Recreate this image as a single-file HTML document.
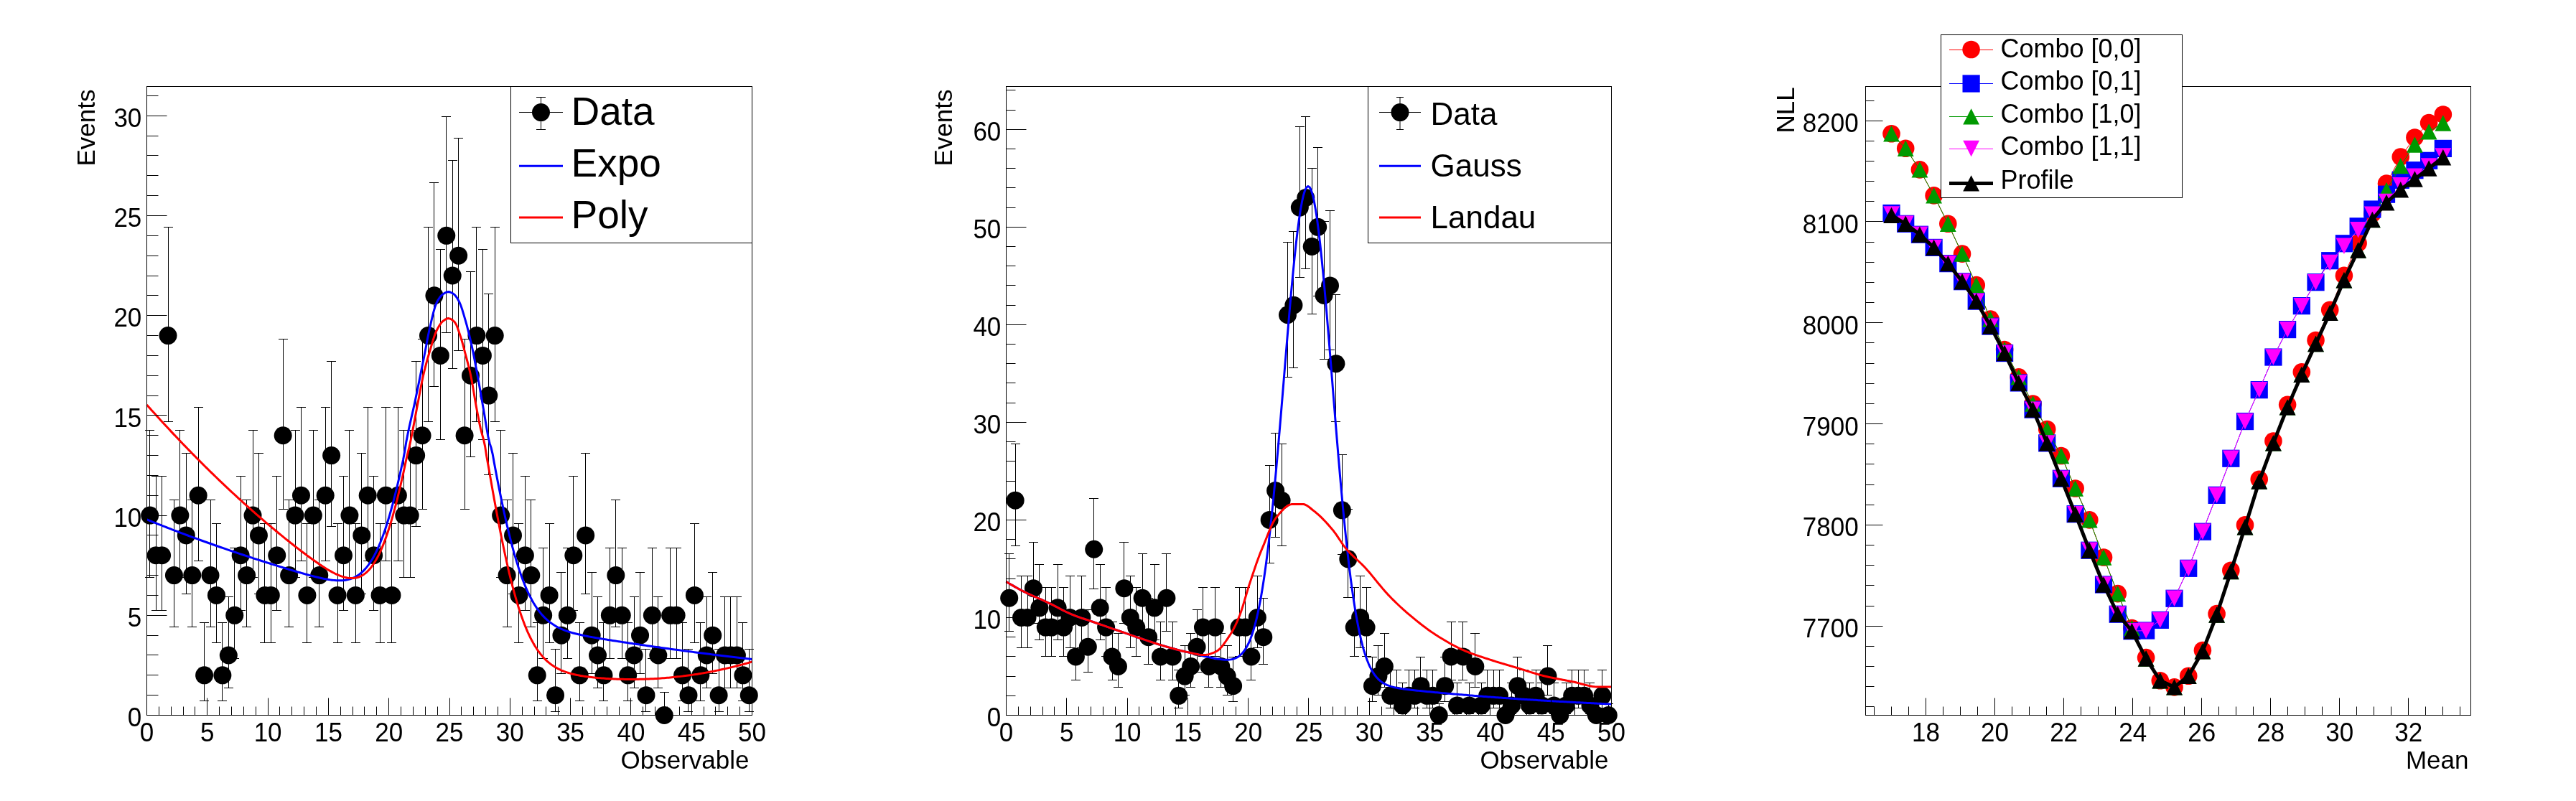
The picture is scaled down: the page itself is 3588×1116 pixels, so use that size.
<!DOCTYPE html><html><head><meta charset="utf-8"><style>html,body{margin:0;padding:0;background:#fff}</style></head><body><svg width="3588" height="1116" viewBox="0 0 3588 1116" style="font-family:'Liberation Sans',sans-serif;display:block;will-change:transform">
<rect width="3588" height="1116" fill="#fff"/>
<path d="M208.5 599.5V804.5M202 599.5h13M202 804.5h13M217.5 663.5V850.5M211 663.5h13M211 850.5h13M225.5 663.5V850.5M219 663.5h13M219 850.5h13M234.5 316.5V587.5M228 316.5h13M228 587.5h13M242.5 696.5V873.5M236 696.5h13M236 873.5h13M250.5 599.5V804.5M244 599.5h13M244 804.5h13M259.5 631.5V827.5M253 631.5h13M253 827.5h13M267.5 696.5V873.5M261 696.5h13M261 873.5h13M276.5 567.5V781.5M270 567.5h13M270 781.5h13M284.5 867.5V976.5M278 867.5h13M278 976.5h13M293.5 696.5V873.5M287 696.5h13M287 873.5h13M301.5 729.5V895.5M295 729.5h13M295 895.5h13M309.5 867.5V976.5M303 867.5h13M303 976.5h13M318.5 831.5V958.5M312 831.5h13M312 958.5h13M326.5 763.5V917.5M320 763.5h13M320 917.5h13M335.5 663.5V850.5M329 663.5h13M329 850.5h13M343.5 696.5V873.5M337 696.5h13M337 873.5h13M352.5 599.5V804.5M346 599.5h13M346 804.5h13M360.5 631.5V827.5M354 631.5h13M354 827.5h13M368.5 729.5V895.5M362 729.5h13M362 895.5h13M377.5 729.5V895.5M371 729.5h13M371 895.5h13M385.5 663.5V850.5M379 663.5h13M379 850.5h13M394.5 472.5V709.5M388 472.5h13M388 709.5h13M402.5 696.5V873.5M396 696.5h13M396 873.5h13M411.5 599.5V804.5M405 599.5h13M405 804.5h13M419.5 567.5V781.5M413 567.5h13M413 781.5h13M427.5 729.5V895.5M421 729.5h13M421 895.5h13M436.5 599.5V804.5M430 599.5h13M430 804.5h13M444.5 696.5V873.5M438 696.5h13M438 873.5h13M453.5 567.5V781.5M447 567.5h13M447 781.5h13M461.5 503.5V733.5M455 503.5h13M455 733.5h13M470.5 729.5V895.5M464 729.5h13M464 895.5h13M478.5 663.5V850.5M472 663.5h13M472 850.5h13M486.5 599.5V804.5M480 599.5h13M480 804.5h13M495.5 729.5V895.5M489 729.5h13M489 895.5h13M503.5 631.5V827.5M497 631.5h13M497 827.5h13M512.5 567.5V781.5M506 567.5h13M506 781.5h13M520.5 663.5V850.5M514 663.5h13M514 850.5h13M529.5 729.5V895.5M523 729.5h13M523 895.5h13M537.5 567.5V781.5M531 567.5h13M531 781.5h13M545.5 729.5V895.5M539 729.5h13M539 895.5h13M554.5 567.5V781.5M548 567.5h13M548 781.5h13M562.5 599.5V804.5M556 599.5h13M556 804.5h13M571.5 599.5V804.5M565 599.5h13M565 804.5h13M579.5 503.5V733.5M573 503.5h13M573 733.5h13M588.5 472.5V709.5M582 472.5h13M582 709.5h13M596.5 316.5V587.5M590 316.5h13M590 587.5h13M604.5 254.5V538.5M598 254.5h13M598 538.5h13M613.5 347.5V612.5M607 347.5h13M607 612.5h13M621.5 162.5V463.5M615 162.5h13M615 463.5h13M630.5 223.5V513.5M624 223.5h13M624 513.5h13M638.5 192.5V488.5M632 192.5h13M632 488.5h13M647.5 472.5V709.5M641 472.5h13M641 709.5h13M655.5 378.5V636.5M649 378.5h13M649 636.5h13M663.5 316.5V587.5M657 316.5h13M657 587.5h13M672.5 347.5V612.5M666 347.5h13M666 612.5h13M680.5 409.5V661.5M674 409.5h13M674 661.5h13M689.5 316.5V587.5M683 316.5h13M683 587.5h13M697.5 599.5V804.5M691 599.5h13M691 804.5h13M706.5 696.5V873.5M700 696.5h13M700 873.5h13M714.5 631.5V827.5M708 631.5h13M708 827.5h13M722.5 729.5V895.5M716 729.5h13M716 895.5h13M731.5 663.5V850.5M725 663.5h13M725 850.5h13M739.5 696.5V873.5M733 696.5h13M733 873.5h13M748.5 867.5V976.5M742 867.5h13M742 976.5h13M756.5 763.5V917.5M750 763.5h13M750 917.5h13M765.5 729.5V895.5M759 729.5h13M759 895.5h13M773.5 904.5V991.5M767 904.5h13M767 991.5h13M781.5 797.5V938.5M775 797.5h13M775 938.5h13M790.5 763.5V917.5M784 763.5h13M784 917.5h13M798.5 663.5V850.5M792 663.5h13M792 850.5h13M807.5 867.5V976.5M801 867.5h13M801 976.5h13M815.5 631.5V827.5M809 631.5h13M809 827.5h13M824.5 797.5V938.5M818 797.5h13M818 938.5h13M832.5 831.5V958.5M826 831.5h13M826 958.5h13M840.5 867.5V976.5M834 867.5h13M834 976.5h13M849.5 763.5V917.5M843 763.5h13M843 917.5h13M857.5 696.5V873.5M851 696.5h13M851 873.5h13M866.5 763.5V917.5M860 763.5h13M860 917.5h13M874.5 867.5V976.5M868 867.5h13M868 976.5h13M883.5 831.5V958.5M877 831.5h13M877 958.5h13M891.5 797.5V938.5M885 797.5h13M885 938.5h13M899.5 904.5V991.5M893 904.5h13M893 991.5h13M908.5 763.5V917.5M902 763.5h13M902 917.5h13M916.5 831.5V958.5M910 831.5h13M910 958.5h13M925.5 964.5V996.5M919 964.5h13M933.5 763.5V917.5M927 763.5h13M927 917.5h13M942.5 763.5V917.5M936 763.5h13M936 917.5h13M950.5 867.5V976.5M944 867.5h13M944 976.5h13M958.5 904.5V991.5M952 904.5h13M952 991.5h13M967.5 729.5V895.5M961 729.5h13M961 895.5h13M975.5 867.5V976.5M969 867.5h13M969 976.5h13M984.5 831.5V958.5M978 831.5h13M978 958.5h13M992.5 797.5V938.5M986 797.5h13M986 938.5h13M1001.5 904.5V991.5M995 904.5h13M995 991.5h13M1009.5 831.5V958.5M1003 831.5h13M1003 958.5h13M1017.5 831.5V958.5M1011 831.5h13M1011 958.5h13M1026.5 831.5V958.5M1020 831.5h13M1020 958.5h13M1034.5 867.5V976.5M1028 867.5h13M1028 976.5h13M1043.5 904.5V991.5M1037 904.5h13M1037 991.5h13" stroke="#000" stroke-width="1" fill="none"/>
<g fill="#000"><circle cx="208.72" cy="718.1" r="12.5"/><circle cx="217.15" cy="773.78" r="12.5"/><circle cx="225.57" cy="773.78" r="12.5"/><circle cx="234" cy="467.54" r="12.5"/><circle cx="242.44" cy="801.62" r="12.5"/><circle cx="250.87" cy="718.1" r="12.5"/><circle cx="259.3" cy="745.94" r="12.5"/><circle cx="267.73" cy="801.62" r="12.5"/><circle cx="276.15" cy="690.26" r="12.5"/><circle cx="284.58" cy="940.82" r="12.5"/><circle cx="293.01" cy="801.62" r="12.5"/><circle cx="301.44" cy="829.46" r="12.5"/><circle cx="309.88" cy="940.82" r="12.5"/><circle cx="318.31" cy="912.98" r="12.5"/><circle cx="326.74" cy="857.3" r="12.5"/><circle cx="335.16" cy="773.78" r="12.5"/><circle cx="343.6" cy="801.62" r="12.5"/><circle cx="352.02" cy="718.1" r="12.5"/><circle cx="360.45" cy="745.94" r="12.5"/><circle cx="368.88" cy="829.46" r="12.5"/><circle cx="377.31" cy="829.46" r="12.5"/><circle cx="385.75" cy="773.78" r="12.5"/><circle cx="394.17" cy="606.74" r="12.5"/><circle cx="402.61" cy="801.62" r="12.5"/><circle cx="411.03" cy="718.1" r="12.5"/><circle cx="419.47" cy="690.26" r="12.5"/><circle cx="427.89" cy="829.46" r="12.5"/><circle cx="436.32" cy="718.1" r="12.5"/><circle cx="444.75" cy="801.62" r="12.5"/><circle cx="453.19" cy="690.26" r="12.5"/><circle cx="461.62" cy="634.58" r="12.5"/><circle cx="470.05" cy="829.46" r="12.5"/><circle cx="478.47" cy="773.78" r="12.5"/><circle cx="486.9" cy="718.1" r="12.5"/><circle cx="495.33" cy="829.46" r="12.5"/><circle cx="503.76" cy="745.94" r="12.5"/><circle cx="512.19" cy="690.26" r="12.5"/><circle cx="520.62" cy="773.78" r="12.5"/><circle cx="529.06" cy="829.46" r="12.5"/><circle cx="537.49" cy="690.26" r="12.5"/><circle cx="545.91" cy="829.46" r="12.5"/><circle cx="554.35" cy="690.26" r="12.5"/><circle cx="562.77" cy="718.1" r="12.5"/><circle cx="571.2" cy="718.1" r="12.5"/><circle cx="579.63" cy="634.58" r="12.5"/><circle cx="588.07" cy="606.74" r="12.5"/><circle cx="596.5" cy="467.54" r="12.5"/><circle cx="604.92" cy="411.86" r="12.5"/><circle cx="613.36" cy="495.38" r="12.5"/><circle cx="621.78" cy="328.33" r="12.5"/><circle cx="630.21" cy="384.02" r="12.5"/><circle cx="638.64" cy="356.18" r="12.5"/><circle cx="647.08" cy="606.74" r="12.5"/><circle cx="655.5" cy="523.22" r="12.5"/><circle cx="663.93" cy="467.54" r="12.5"/><circle cx="672.37" cy="495.38" r="12.5"/><circle cx="680.79" cy="551.06" r="12.5"/><circle cx="689.22" cy="467.54" r="12.5"/><circle cx="697.65" cy="718.1" r="12.5"/><circle cx="706.09" cy="801.62" r="12.5"/><circle cx="714.51" cy="745.94" r="12.5"/><circle cx="722.94" cy="829.46" r="12.5"/><circle cx="731.38" cy="773.78" r="12.5"/><circle cx="739.8" cy="801.62" r="12.5"/><circle cx="748.24" cy="940.82" r="12.5"/><circle cx="756.66" cy="857.3" r="12.5"/><circle cx="765.1" cy="829.46" r="12.5"/><circle cx="773.52" cy="968.66" r="12.5"/><circle cx="781.95" cy="885.14" r="12.5"/><circle cx="790.38" cy="857.3" r="12.5"/><circle cx="798.81" cy="773.78" r="12.5"/><circle cx="807.25" cy="940.82" r="12.5"/><circle cx="815.67" cy="745.94" r="12.5"/><circle cx="824.11" cy="885.14" r="12.5"/><circle cx="832.53" cy="912.98" r="12.5"/><circle cx="840.97" cy="940.82" r="12.5"/><circle cx="849.39" cy="857.3" r="12.5"/><circle cx="857.82" cy="801.62" r="12.5"/><circle cx="866.25" cy="857.3" r="12.5"/><circle cx="874.68" cy="940.82" r="12.5"/><circle cx="883.12" cy="912.98" r="12.5"/><circle cx="891.54" cy="885.14" r="12.5"/><circle cx="899.98" cy="968.66" r="12.5"/><circle cx="908.4" cy="857.3" r="12.5"/><circle cx="916.83" cy="912.98" r="12.5"/><circle cx="925.26" cy="996.5" r="12.5"/><circle cx="933.69" cy="857.3" r="12.5"/><circle cx="942.12" cy="857.3" r="12.5"/><circle cx="950.55" cy="940.82" r="12.5"/><circle cx="958.99" cy="968.66" r="12.5"/><circle cx="967.41" cy="829.46" r="12.5"/><circle cx="975.85" cy="940.82" r="12.5"/><circle cx="984.27" cy="912.98" r="12.5"/><circle cx="992.7" cy="885.14" r="12.5"/><circle cx="1001.13" cy="968.66" r="12.5"/><circle cx="1009.56" cy="912.98" r="12.5"/><circle cx="1018" cy="912.98" r="12.5"/><circle cx="1026.42" cy="912.98" r="12.5"/><circle cx="1034.86" cy="940.82" r="12.5"/><circle cx="1043.28" cy="968.66" r="12.5"/></g>
<polyline points="204.5,723.88 206.61,724.73 208.73,725.58 210.84,726.43 212.95,727.28 215.06,728.12 217.18,728.96 219.29,729.8 221.4,730.63 223.52,731.47 225.63,732.3 227.74,733.12 229.85,733.95 231.97,734.77 234.08,735.59 236.19,736.41 238.3,737.22 240.42,738.03 242.53,738.84 244.64,739.65 246.76,740.45 248.87,741.26 250.98,742.06 253.09,742.85 255.21,743.65 257.32,744.44 259.43,745.23 261.55,746.02 263.66,746.8 265.77,747.58 267.88,748.36 270,749.14 272.11,749.91 274.22,750.69 276.33,751.46 278.45,752.22 280.56,752.99 282.67,753.75 284.79,754.51 286.9,755.27 289.01,756.03 291.12,756.78 293.24,757.53 295.35,758.28 297.46,759.02 299.58,759.77 301.69,760.51 303.8,761.25 305.91,761.98 308.03,762.72 310.14,763.45 312.25,764.18 314.36,764.91 316.48,765.63 318.59,766.36 320.7,767.08 322.82,767.8 324.93,768.51 327.04,769.23 329.15,769.94 331.27,770.65 333.38,771.36 335.49,772.06 337.61,772.76 339.72,773.46 341.83,774.16 343.94,774.86 346.06,775.55 348.17,776.25 350.28,776.94 352.39,777.62 354.51,778.31 356.62,778.99 358.73,779.67 360.85,780.35 362.96,781.03 365.07,781.7 367.18,782.38 369.3,783.05 371.41,783.72 373.52,784.38 375.64,785.05 377.75,785.71 379.86,786.37 381.97,787.02 384.09,787.68 386.2,788.33 388.31,788.98 390.42,789.63 392.54,790.28 394.65,790.92 396.76,791.56 398.88,792.2 400.99,792.83 403.1,793.47 405.21,794.1 407.33,794.72 409.44,795.35 411.55,795.97 413.67,796.59 415.78,797.2 417.89,797.81 420,798.41 422.12,799.01 424.23,799.6 426.34,800.19 428.45,800.77 430.57,801.34 432.68,801.9 434.79,802.46 436.91,803 439.02,803.54 441.13,804.06 443.24,804.56 445.36,805.05 447.47,805.53 449.58,805.98 451.7,806.41 453.81,806.82 455.92,807.2 458.03,807.55 460.15,807.86 462.26,808.14 464.37,808.38 466.48,808.57 468.6,808.73 470.71,808.79 472.82,808.81 474.94,808.8 477.05,808.68 479.16,808.49 481.27,808.21 483.39,807.84 485.5,807.36 487.61,806.78 489.73,806.06 491.84,805.23 493.95,804.25 496.06,803.13 498.18,801.84 500.29,800.39 502.4,798.75 504.52,796.92 506.63,794.88 508.74,792.62 510.85,790.13 512.97,787.41 515.08,784.43 517.19,781.19 519.3,777.66 521.42,773.86 523.53,769.75 525.64,765.35 527.76,760.61 529.87,755.57 531.98,750.19 534.09,744.48 536.21,738.42 538.32,732.03 540.43,725.29 542.55,718.21 544.66,710.78 546.77,703.03 548.88,694.93 551,686.53 553.11,677.8 555.22,668.79 557.33,659.49 559.45,650.01 561.56,640.47 563.67,629.14 565.79,615.88 567.9,604.93 570.01,594.97 572.12,585.58 574.24,576.41 576.35,567.08 578.46,557.24 580.58,547.08 582.69,536.79 584.8,526.38 586.91,515.91 589.03,505.4 591.14,494.77 593.25,483.66 595.36,472.52 597.48,461.99 599.59,452.58 601.7,443.46 603.82,434.79 605.93,427.38 608.04,421.99 610.15,418.08 612.27,414.76 614.38,412.11 616.49,410.19 618.61,408.8 620.72,407.6 622.83,406.79 624.94,406.58 627.06,407.05 629.17,408 631.28,409.24 633.39,410.86 635.51,413.46 637.62,416.82 639.73,420.68 641.85,425.64 643.96,431.84 646.07,438.82 648.18,446.11 650.3,453.65 652.41,461.83 654.52,470.58 656.64,479.85 658.75,489.68 660.86,500.37 662.97,511.64 665.09,523.2 667.2,534.77 669.31,546.63 671.42,558.73 673.54,570.81 675.65,583.3 677.76,596.31 679.88,608.22 681.99,617.36 684.1,623.84 686.21,632.82 688.33,644.77 690.44,656.13 692.55,667.11 694.67,677.85 696.78,688.38 698.89,698.62 701,708.6 703.12,718.28 705.23,727.65 707.34,736.7 709.45,745.43 711.57,753.81 713.68,761.86 715.79,769.56 717.91,776.93 720.02,783.94 722.13,790.63 724.24,796.97 726.36,802.99 728.47,808.67 730.58,814.05 732.7,819.11 734.81,823.89 736.92,828.37 739.03,832.58 741.15,836.51 743.26,840.2 745.37,843.64 747.48,846.86 749.6,849.85 751.71,852.64 753.82,855.23 755.94,857.65 758.05,859.88 760.16,861.96 762.27,863.88 764.39,865.67 766.5,867.32 768.61,868.86 770.73,870.28 772.84,871.6 774.95,872.83 777.06,873.97 779.18,875.02 781.29,876.01 783.4,876.93 785.52,877.79 787.63,878.59 789.74,879.34 791.85,880.05 793.97,880.72 796.08,881.35 798.19,881.95 800.3,882.51 802.42,883.05 804.53,883.57 806.64,884.07 808.76,884.54 810.87,885 812.98,885.44 815.09,885.87 817.21,886.29 819.32,886.7 821.43,887.1 823.55,887.48 825.66,887.87 827.77,888.24 829.88,888.61 832,888.97 834.11,889.33 836.22,889.68 838.33,890.03 840.45,890.38 842.56,890.72 844.67,891.07 846.79,891.4 848.9,891.74 851.01,892.07 853.12,892.41 855.24,892.74 857.35,893.06 859.46,893.39 861.58,893.72 863.69,894.04 865.8,894.36 867.91,894.68 870.03,895 872.14,895.32 874.25,895.64 876.36,895.96 878.48,896.27 880.59,896.59 882.7,896.9 884.82,897.21 886.93,897.52 889.04,897.83 891.15,898.14 893.27,898.45 895.38,898.76 897.49,899.07 899.61,899.37 901.72,899.68 903.83,899.98 905.94,900.28 908.06,900.58 910.17,900.88 912.28,901.18 914.39,901.48 916.51,901.78 918.62,902.07 920.73,902.37 922.85,902.67 924.96,902.96 927.07,903.25 929.18,903.54 931.3,903.84 933.41,904.13 935.52,904.42 937.64,904.7 939.75,904.99 941.86,905.28 943.97,905.56 946.09,905.85 948.2,906.13 950.31,906.42 952.42,906.7 954.54,906.98 956.65,907.26 958.76,907.54 960.88,907.82 962.99,908.09 965.1,908.37 967.21,908.65 969.33,908.92 971.44,909.2 973.55,909.47 975.67,909.74 977.78,910.01 979.89,910.29 982,910.56 984.12,910.82 986.23,911.09 988.34,911.36 990.45,911.63 992.57,911.89 994.68,912.16 996.79,912.42 998.91,912.69 1001.02,912.95 1003.13,913.21 1005.24,913.47 1007.36,913.73 1009.47,913.99 1011.58,914.25 1013.7,914.51 1015.81,914.76 1017.92,915.02 1020.03,915.27 1022.15,915.53 1024.26,915.78 1026.37,916.03 1028.48,916.29 1030.6,916.54 1032.71,916.79 1034.82,917.04 1036.94,917.29 1039.05,917.54 1041.16,917.78 1043.27,918.03 1045.39,918.27 1047.5,918.52" fill="none" stroke="#0000ff" stroke-width="3" stroke-linejoin="round"/>
<polyline points="204.5,564.09 206.61,566.46 208.73,568.82 210.84,571.17 212.95,573.52 215.06,575.86 217.18,578.19 219.29,580.51 221.4,582.83 223.52,585.14 225.63,587.44 227.74,589.74 229.85,592.03 231.97,594.31 234.08,596.58 236.19,598.85 238.3,601.11 240.42,603.36 242.53,605.61 244.64,607.84 246.76,610.07 248.87,612.3 250.98,614.51 253.09,616.72 255.21,618.92 257.32,621.12 259.43,623.31 261.55,625.48 263.66,627.66 265.77,629.82 267.88,631.98 270,634.13 272.11,636.28 274.22,638.41 276.33,640.54 278.45,642.66 280.56,644.78 282.67,646.89 284.79,648.99 286.9,651.08 289.01,653.16 291.12,655.24 293.24,657.31 295.35,659.38 297.46,661.43 299.58,663.48 301.69,665.53 303.8,667.56 305.91,669.59 308.03,671.61 310.14,673.62 312.25,675.63 314.36,677.63 316.48,679.62 318.59,681.6 320.7,683.58 322.82,685.55 324.93,687.51 327.04,689.46 329.15,691.41 331.27,693.35 333.38,695.28 335.49,697.21 337.61,699.13 339.72,701.04 341.83,702.94 343.94,704.84 346.06,706.73 348.17,708.61 350.28,710.49 352.39,712.35 354.51,714.21 356.62,716.07 358.73,717.91 360.85,719.75 362.96,721.58 365.07,723.4 367.18,725.22 369.3,727.03 371.41,728.83 373.52,730.62 375.64,732.41 377.75,734.19 379.86,735.96 381.97,737.72 384.09,739.48 386.2,741.23 388.31,742.97 390.42,744.7 392.54,746.43 394.65,748.15 396.76,749.86 398.88,751.56 400.99,753.26 403.1,754.94 405.21,756.62 407.33,758.29 409.44,759.95 411.55,761.61 413.67,763.25 415.78,764.88 417.89,766.51 420,768.12 422.12,769.72 424.23,771.32 426.34,772.9 428.45,774.46 430.57,776.02 432.68,777.56 434.79,779.08 436.91,780.59 439.02,782.09 441.13,783.56 443.24,785.01 445.36,786.45 447.47,787.85 449.58,789.24 451.7,790.59 453.81,791.91 455.92,793.2 458.03,794.46 460.15,795.67 462.26,796.84 464.37,797.96 466.48,799.03 468.6,800.04 470.71,800.99 472.82,801.87 474.94,802.68 477.05,803.41 479.16,804.04 481.27,804.59 483.39,805.03 485.5,805.38 487.61,805.54 489.73,805.61 491.84,805.61 493.95,805.38 496.06,805.04 498.18,804.48 500.29,803.78 502.4,802.86 504.52,801.75 506.63,800.41 508.74,798.86 510.85,797.05 512.97,795.01 515.08,792.68 517.19,790.09 519.3,787.2 521.42,784.03 523.53,780.54 525.64,776.74 527.76,772.6 529.87,768.14 531.98,763.32 534.09,758.17 536.21,752.66 538.32,746.8 540.43,740.58 542.55,734.02 544.66,727.09 546.77,719.83 548.88,712.22 551,704.29 553.11,696.03 555.22,687.48 557.33,678.63 559.45,669.52 561.56,660.14 563.67,650.5 565.79,640.53 567.9,631.34 570.01,622.9 572.12,613.23 574.24,602.62 576.35,591.47 578.46,580.15 580.58,569.02 582.69,558.03 584.8,546.75 586.91,535.71 589.03,525.42 591.14,516.33 593.25,508.05 595.36,500.34 597.48,493.04 599.59,485.97 601.7,478.8 603.82,471.86 605.93,465.65 608.04,460.69 610.15,456.64 612.27,453.03 614.38,450.03 616.49,447.81 618.61,446.21 620.72,444.81 622.83,443.85 624.94,443.61 627.06,444.14 629.17,445.3 631.28,446.92 633.39,448.86 635.51,452.2 637.62,457.51 639.73,463.72 641.85,470.04 643.96,477.21 646.07,485.03 648.18,493.08 650.3,501.01 652.41,509.1 654.52,517.81 656.64,527.69 658.75,539.46 660.86,552.15 662.97,564.45 665.09,575.74 667.2,586.64 669.31,596.63 671.42,604.78 673.54,612.31 675.65,622.14 677.76,635.72 679.88,647.6 681.99,659.58 684.1,671.58 686.21,683.46 688.33,695.21 690.44,706.76 692.55,718.12 694.67,729.24 696.78,740.12 698.89,750.71 701,761.03 703.12,771.02 705.23,780.71 707.34,790.04 709.45,799.06 711.57,807.71 713.68,816.02 715.79,823.97 717.91,831.57 720.02,838.81 722.13,845.71 724.24,852.25 726.36,858.46 728.47,864.33 730.58,869.89 732.7,875.11 734.81,880.04 736.92,884.67 739.03,889.02 741.15,893.08 743.26,896.89 745.37,900.44 747.48,903.76 749.6,906.85 751.71,909.73 753.82,912.4 755.94,914.89 758.05,917.19 760.16,919.33 762.27,921.31 764.39,923.14 766.5,924.83 768.61,926.4 770.73,927.85 772.84,929.19 774.95,930.42 777.06,931.57 779.18,932.62 781.29,933.6 783.4,934.51 785.52,935.34 787.63,936.12 789.74,936.84 791.85,937.51 793.97,938.13 796.08,938.71 798.19,939.24 800.3,939.74 802.42,940.21 804.53,940.65 806.64,941.06 808.76,941.44 810.87,941.8 812.98,942.14 815.09,942.46 817.21,942.76 819.32,943.04 821.43,943.31 823.55,943.56 825.66,943.8 827.77,944.02 829.88,944.23 832,944.43 834.11,944.62 836.22,944.8 838.33,944.97 840.45,945.12 842.56,945.27 844.67,945.41 846.79,945.54 848.9,945.66 851.01,945.77 853.12,945.87 855.24,945.97 857.35,946.05 859.46,946.13 861.58,946.2 863.69,946.26 865.8,946.32 867.91,946.36 870.03,946.4 872.14,946.43 874.25,946.45 876.36,946.46 878.48,946.47 880.59,946.47 882.7,946.46 884.82,946.45 886.93,946.42 889.04,946.39 891.15,946.35 893.27,946.3 895.38,946.25 897.49,946.18 899.61,946.11 901.72,946.04 903.83,945.95 905.94,945.86 908.06,945.76 910.17,945.65 912.28,945.53 914.39,945.41 916.51,945.27 918.62,945.14 920.73,944.99 922.85,944.83 924.96,944.67 927.07,944.5 929.18,944.32 931.3,944.14 933.41,943.94 935.52,943.74 937.64,943.53 939.75,943.32 941.86,943.09 943.97,942.86 946.09,942.62 948.2,942.38 950.31,942.12 952.42,941.86 954.54,941.59 956.65,941.31 958.76,941.02 960.88,940.73 962.99,940.43 965.1,940.12 967.21,939.81 969.33,939.48 971.44,939.15 973.55,938.81 975.67,938.46 977.78,938.11 979.89,937.75 982,937.37 984.12,937 986.23,936.61 988.34,936.22 990.45,935.82 992.57,935.41 994.68,934.99 996.79,934.57 998.91,934.13 1001.02,933.69 1003.13,933.25 1005.24,932.79 1007.36,932.33 1009.47,931.86 1011.58,931.38 1013.7,930.89 1015.81,930.4 1017.92,929.9 1020.03,929.39 1022.15,928.87 1024.26,928.34 1026.37,927.81 1028.48,927.27 1030.6,926.72 1032.71,926.17 1034.82,925.6 1036.94,925.03 1039.05,924.45 1041.16,923.86 1043.27,923.27 1045.39,922.67 1047.5,922.06" fill="none" stroke="#ff0000" stroke-width="3" stroke-linejoin="round"/>
<rect x="204.5" y="120.5" width="843" height="876" fill="none" stroke="#000" stroke-width="1"/>
<path d="M221.5 996.5v-12M238.5 996.5v-12M255.5 996.5v-12M271.5 996.5v-12M288.5 996.5v-12M305.5 996.5v-12M322.5 996.5v-12M339.5 996.5v-12M356.5 996.5v-12M373.5 996.5v-12M389.5 996.5v-12M406.5 996.5v-12M423.5 996.5v-12M440.5 996.5v-12M457.5 996.5v-12M474.5 996.5v-12M491.5 996.5v-12M507.5 996.5v-12M524.5 996.5v-12M541.5 996.5v-12M558.5 996.5v-12M575.5 996.5v-12M592.5 996.5v-12M609.5 996.5v-12M626.5 996.5v-12M642.5 996.5v-12M659.5 996.5v-12M676.5 996.5v-12M693.5 996.5v-12M710.5 996.5v-12M727.5 996.5v-12M744.5 996.5v-12M760.5 996.5v-12M777.5 996.5v-12M794.5 996.5v-12M811.5 996.5v-12M828.5 996.5v-12M845.5 996.5v-12M862.5 996.5v-12M878.5 996.5v-12M895.5 996.5v-12M912.5 996.5v-12M929.5 996.5v-12M946.5 996.5v-12M963.5 996.5v-12M980.5 996.5v-12M996.5 996.5v-12M1013.5 996.5v-12M1030.5 996.5v-12M204.5 996.5v-24M288.5 996.5v-24M373.5 996.5v-24M457.5 996.5v-24M541.5 996.5v-24M626.5 996.5v-24M710.5 996.5v-24M794.5 996.5v-24M878.5 996.5v-24M963.5 996.5v-24M1047.5 996.5v-24" stroke="#000" stroke-width="1" fill="none"/>
<path d="M204.5 968.5h16M204.5 940.5h16M204.5 912.5h16M204.5 885.5h16M204.5 857.5h16M204.5 829.5h16M204.5 801.5h16M204.5 773.5h16M204.5 745.5h16M204.5 718.5h16M204.5 690.5h16M204.5 662.5h16M204.5 634.5h16M204.5 606.5h16M204.5 578.5h16M204.5 551.5h16M204.5 523.5h16M204.5 495.5h16M204.5 467.5h16M204.5 439.5h16M204.5 411.5h16M204.5 384.5h16M204.5 356.5h16M204.5 328.5h16M204.5 300.5h16M204.5 272.5h16M204.5 244.5h16M204.5 216.5h16M204.5 189.5h16M204.5 161.5h16M204.5 133.5h16M204.5 996.5h28M204.5 857.5h28M204.5 718.5h28M204.5 578.5h28M204.5 439.5h28M204.5 300.5h28M204.5 161.5h28" stroke="#000" stroke-width="1" fill="none"/>
<text transform="translate(204.5,1033.4) scale(1,1.058)" font-size="35" text-anchor="middle" >0</text>
<text transform="translate(288.8,1033.4) scale(1,1.058)" font-size="35" text-anchor="middle" >5</text>
<text transform="translate(373.1,1033.4) scale(1,1.058)" font-size="35" text-anchor="middle" >10</text>
<text transform="translate(457.4,1033.4) scale(1,1.058)" font-size="35" text-anchor="middle" >15</text>
<text transform="translate(541.7,1033.4) scale(1,1.058)" font-size="35" text-anchor="middle" >20</text>
<text transform="translate(626,1033.4) scale(1,1.058)" font-size="35" text-anchor="middle" >25</text>
<text transform="translate(710.3,1033.4) scale(1,1.058)" font-size="35" text-anchor="middle" >30</text>
<text transform="translate(794.6,1033.4) scale(1,1.058)" font-size="35" text-anchor="middle" >35</text>
<text transform="translate(878.9,1033.4) scale(1,1.058)" font-size="35" text-anchor="middle" >40</text>
<text transform="translate(963.2,1033.4) scale(1,1.058)" font-size="35" text-anchor="middle" >45</text>
<text transform="translate(1047.5,1033.4) scale(1,1.058)" font-size="35" text-anchor="middle" >50</text>
<text transform="translate(197.3,1012.1) scale(1,1.058)" font-size="35" text-anchor="end" >0</text>
<text transform="translate(197.3,872.9) scale(1,1.058)" font-size="35" text-anchor="end" >5</text>
<text transform="translate(197.3,733.7) scale(1,1.058)" font-size="35" text-anchor="end" >10</text>
<text transform="translate(197.3,594.5) scale(1,1.058)" font-size="35" text-anchor="end" >15</text>
<text transform="translate(197.3,455.3) scale(1,1.058)" font-size="35" text-anchor="end" >20</text>
<text transform="translate(197.3,316.09) scale(1,1.058)" font-size="35" text-anchor="end" >25</text>
<text transform="translate(197.3,176.89) scale(1,1.058)" font-size="35" text-anchor="end" >30</text>
<text x="1043.5" y="1071" font-size="35" text-anchor="end" >Observable</text>
<text transform="translate(132,124.5) rotate(-90)" font-size="35" text-anchor="end">Events</text>
<rect x="711.5" y="120.5" width="336" height="218" fill="#fff" stroke="#000" stroke-width="1"/>
<path d="M723 156.5h61M753.5 135.5V180.5M747 135.5h13M747 180.5h13" stroke="#000" stroke-width="1" fill="none"/>
<circle cx="753.5" cy="156.6" r="12.5" fill="#000"/>
<path d="M723 231.2h61" stroke="#0000ff" stroke-width="3"/>
<path d="M723 303.1h61" stroke="#ff0000" stroke-width="3"/>
<text x="795.5" y="173.9" font-size="55" text-anchor="start" >Data</text>
<text x="795.5" y="246.2" font-size="55" text-anchor="start" >Expo</text>
<text x="795.5" y="318.3" font-size="55" text-anchor="start" >Poly</text>
<path d="M1405.5 771.5V879.5M1399 771.5h13M1399 879.5h13M1414.5 618.5V760.5M1408 618.5h13M1408 760.5h13M1422.5 802.5V902.5M1416 802.5h13M1416 902.5h13M1431.5 802.5V902.5M1425 802.5h13M1425 902.5h13M1439.5 755.5V868.5M1433 755.5h13M1433 868.5h13M1447.5 786.5V891.5M1441 786.5h13M1441 891.5h13M1456.5 818.5V914.5M1450 818.5h13M1450 914.5h13M1464.5 818.5V914.5M1458 818.5h13M1458 914.5h13M1473.5 786.5V891.5M1467 786.5h13M1467 891.5h13M1481.5 818.5V914.5M1475 818.5h13M1475 914.5h13M1490.5 802.5V902.5M1484 802.5h13M1484 902.5h13M1498.5 866.5V947.5M1492 866.5h13M1492 947.5h13M1506.5 802.5V902.5M1500 802.5h13M1500 902.5h13M1515.5 849.5V936.5M1509 849.5h13M1509 936.5h13M1523.5 694.5V820.5M1517 694.5h13M1517 820.5h13M1532.5 786.5V891.5M1526 786.5h13M1526 891.5h13M1540.5 818.5V914.5M1534 818.5h13M1534 914.5h13M1549.5 866.5V947.5M1543 866.5h13M1543 947.5h13M1557.5 882.5V957.5M1551 882.5h13M1551 957.5h13M1565.5 755.5V868.5M1559 755.5h13M1559 868.5h13M1574.5 802.5V902.5M1568 802.5h13M1568 902.5h13M1582.5 818.5V914.5M1576 818.5h13M1576 914.5h13M1591.5 771.5V879.5M1585 771.5h13M1585 879.5h13M1599.5 833.5V925.5M1593 833.5h13M1593 925.5h13M1608.5 786.5V891.5M1602 786.5h13M1602 891.5h13M1616.5 866.5V947.5M1610 866.5h13M1610 947.5h13M1624.5 771.5V879.5M1618 771.5h13M1618 879.5h13M1633.5 866.5V947.5M1627 866.5h13M1627 947.5h13M1641.5 933.5V986.5M1635 933.5h13M1635 986.5h13M1650.5 899.5V968.5M1644 899.5h13M1644 968.5h13M1658.5 882.5V957.5M1652 882.5h13M1652 957.5h13M1667.5 849.5V936.5M1661 849.5h13M1661 936.5h13M1675.5 818.5V914.5M1669 818.5h13M1669 914.5h13M1683.5 882.5V957.5M1677 882.5h13M1677 957.5h13M1692.5 818.5V914.5M1686 818.5h13M1686 914.5h13M1700.5 882.5V957.5M1694 882.5h13M1694 957.5h13M1709.5 899.5V968.5M1703 899.5h13M1703 968.5h13M1717.5 915.5V977.5M1711 915.5h13M1711 977.5h13M1726.5 818.5V914.5M1720 818.5h13M1720 914.5h13M1734.5 818.5V914.5M1728 818.5h13M1728 914.5h13M1742.5 866.5V947.5M1736 866.5h13M1736 947.5h13M1751.5 802.5V902.5M1745 802.5h13M1745 902.5h13M1759.5 833.5V925.5M1753 833.5h13M1753 925.5h13M1768.5 648.5V784.5M1762 648.5h13M1762 784.5h13M1776.5 603.5V748.5M1770 603.5h13M1770 748.5h13M1785.5 618.5V760.5M1779 618.5h13M1779 760.5h13M1793.5 337.5V525.5M1787 337.5h13M1787 525.5h13M1801.5 322.5V512.5M1795 322.5h13M1795 512.5h13M1810.5 176.5V386.5M1804 176.5h13M1804 386.5h13M1818.5 162.5V374.5M1812 162.5h13M1812 374.5h13M1827.5 234.5V437.5M1821 234.5h13M1821 437.5h13M1835.5 205.5V412.5M1829 205.5h13M1829 412.5h13M1844.5 308.5V500.5M1838 308.5h13M1838 500.5h13M1852.5 293.5V487.5M1846 293.5h13M1846 487.5h13M1860.5 410.5V587.5M1854 410.5h13M1854 587.5h13M1869.5 633.5V772.5M1863 633.5h13M1863 772.5h13M1877.5 709.5V832.5M1871 709.5h13M1871 832.5h13M1886.5 818.5V914.5M1880 818.5h13M1880 914.5h13M1894.5 802.5V902.5M1888 802.5h13M1888 902.5h13M1903.5 818.5V914.5M1897 818.5h13M1897 914.5h13M1911.5 915.5V977.5M1905 915.5h13M1905 977.5h13M1919.5 899.5V968.5M1913 899.5h13M1913 968.5h13M1928.5 882.5V957.5M1922 882.5h13M1922 957.5h13M1936.5 933.5V986.5M1930 933.5h13M1930 986.5h13M1945.5 933.5V986.5M1939 933.5h13M1939 986.5h13M1953.5 951.5V994.5M1947 951.5h13M1947 994.5h13M1962.5 933.5V986.5M1956 933.5h13M1956 986.5h13M1970.5 933.5V986.5M1964 933.5h13M1964 986.5h13M1978.5 915.5V977.5M1972 915.5h13M1972 977.5h13M1987.5 933.5V986.5M1981 933.5h13M1981 986.5h13M1995.5 933.5V986.5M1989 933.5h13M1989 986.5h13M2004.5 980.5V996.5M1998 980.5h13M2012.5 915.5V977.5M2006 915.5h13M2006 977.5h13M2021.5 866.5V947.5M2015 866.5h13M2015 947.5h13M2029.5 951.5V994.5M2023 951.5h13M2023 994.5h13M2037.5 866.5V947.5M2031 866.5h13M2031 947.5h13M2046.5 951.5V994.5M2040 951.5h13M2040 994.5h13M2054.5 882.5V957.5M2048 882.5h13M2048 957.5h13M2063.5 951.5V994.5M2057 951.5h13M2057 994.5h13M2071.5 933.5V986.5M2065 933.5h13M2065 986.5h13M2080.5 933.5V986.5M2074 933.5h13M2074 986.5h13M2088.5 933.5V986.5M2082 933.5h13M2082 986.5h13M2096.5 980.5V996.5M2090 980.5h13M2105.5 951.5V994.5M2099 951.5h13M2099 994.5h13M2113.5 915.5V977.5M2107 915.5h13M2107 977.5h13M2122.5 933.5V986.5M2116 933.5h13M2116 986.5h13M2130.5 951.5V994.5M2124 951.5h13M2124 994.5h13M2139.5 933.5V986.5M2133 933.5h13M2133 986.5h13M2147.5 951.5V994.5M2141 951.5h13M2141 994.5h13M2155.5 899.5V968.5M2149 899.5h13M2149 968.5h13M2164.5 951.5V994.5M2158 951.5h13M2158 994.5h13M2172.5 980.5V996.5M2166 980.5h13M2181.5 951.5V994.5M2175 951.5h13M2175 994.5h13M2189.5 933.5V986.5M2183 933.5h13M2183 986.5h13M2198.5 933.5V986.5M2192 933.5h13M2192 986.5h13M2206.5 933.5V986.5M2200 933.5h13M2200 986.5h13M2214.5 951.5V994.5M2208 951.5h13M2208 994.5h13M2223.5 980.5V996.5M2217 980.5h13M2231.5 933.5V986.5M2225 933.5h13M2225 986.5h13M2240.5 980.5V996.5M2234 980.5h13" stroke="#000" stroke-width="1" fill="none"/>
<g fill="#000"><circle cx="1405.71" cy="833.25" r="12.5"/><circle cx="1414.14" cy="697.21" r="12.5"/><circle cx="1422.58" cy="860.46" r="12.5"/><circle cx="1431.01" cy="860.46" r="12.5"/><circle cx="1439.43" cy="819.65" r="12.5"/><circle cx="1447.87" cy="846.85" r="12.5"/><circle cx="1456.3" cy="874.06" r="12.5"/><circle cx="1464.72" cy="874.06" r="12.5"/><circle cx="1473.15" cy="846.85" r="12.5"/><circle cx="1481.59" cy="874.06" r="12.5"/><circle cx="1490.02" cy="860.46" r="12.5"/><circle cx="1498.44" cy="914.88" r="12.5"/><circle cx="1506.88" cy="860.46" r="12.5"/><circle cx="1515.31" cy="901.27" r="12.5"/><circle cx="1523.73" cy="765.23" r="12.5"/><circle cx="1532.16" cy="846.85" r="12.5"/><circle cx="1540.6" cy="874.06" r="12.5"/><circle cx="1549.03" cy="914.88" r="12.5"/><circle cx="1557.45" cy="928.48" r="12.5"/><circle cx="1565.88" cy="819.65" r="12.5"/><circle cx="1574.32" cy="860.46" r="12.5"/><circle cx="1582.74" cy="874.06" r="12.5"/><circle cx="1591.17" cy="833.25" r="12.5"/><circle cx="1599.61" cy="887.67" r="12.5"/><circle cx="1608.04" cy="846.85" r="12.5"/><circle cx="1616.46" cy="914.88" r="12.5"/><circle cx="1624.89" cy="833.25" r="12.5"/><circle cx="1633.33" cy="914.88" r="12.5"/><circle cx="1641.76" cy="969.29" r="12.5"/><circle cx="1650.18" cy="942.08" r="12.5"/><circle cx="1658.62" cy="928.48" r="12.5"/><circle cx="1667.05" cy="901.27" r="12.5"/><circle cx="1675.47" cy="874.06" r="12.5"/><circle cx="1683.9" cy="928.48" r="12.5"/><circle cx="1692.34" cy="874.06" r="12.5"/><circle cx="1700.76" cy="928.48" r="12.5"/><circle cx="1709.19" cy="942.08" r="12.5"/><circle cx="1717.62" cy="955.69" r="12.5"/><circle cx="1726.06" cy="874.06" r="12.5"/><circle cx="1734.49" cy="874.06" r="12.5"/><circle cx="1742.91" cy="914.88" r="12.5"/><circle cx="1751.35" cy="860.46" r="12.5"/><circle cx="1759.78" cy="887.67" r="12.5"/><circle cx="1768.2" cy="724.42" r="12.5"/><circle cx="1776.63" cy="683.61" r="12.5"/><circle cx="1785.07" cy="697.21" r="12.5"/><circle cx="1793.49" cy="438.73" r="12.5"/><circle cx="1801.92" cy="425.13" r="12.5"/><circle cx="1810.36" cy="289.09" r="12.5"/><circle cx="1818.78" cy="275.48" r="12.5"/><circle cx="1827.21" cy="343.5" r="12.5"/><circle cx="1835.64" cy="316.29" r="12.5"/><circle cx="1844.08" cy="411.52" r="12.5"/><circle cx="1852.51" cy="397.92" r="12.5"/><circle cx="1860.93" cy="506.75" r="12.5"/><circle cx="1869.37" cy="710.81" r="12.5"/><circle cx="1877.8" cy="778.83" r="12.5"/><circle cx="1886.22" cy="874.06" r="12.5"/><circle cx="1894.65" cy="860.46" r="12.5"/><circle cx="1903.09" cy="874.06" r="12.5"/><circle cx="1911.51" cy="955.69" r="12.5"/><circle cx="1919.94" cy="942.08" r="12.5"/><circle cx="1928.38" cy="928.48" r="12.5"/><circle cx="1936.8" cy="969.29" r="12.5"/><circle cx="1945.24" cy="969.29" r="12.5"/><circle cx="1953.66" cy="982.9" r="12.5"/><circle cx="1962.1" cy="969.29" r="12.5"/><circle cx="1970.53" cy="969.29" r="12.5"/><circle cx="1978.95" cy="955.69" r="12.5"/><circle cx="1987.38" cy="969.29" r="12.5"/><circle cx="1995.82" cy="969.29" r="12.5"/><circle cx="2004.24" cy="996.5" r="12.5"/><circle cx="2012.67" cy="955.69" r="12.5"/><circle cx="2021.11" cy="914.88" r="12.5"/><circle cx="2029.53" cy="982.9" r="12.5"/><circle cx="2037.97" cy="914.88" r="12.5"/><circle cx="2046.39" cy="982.9" r="12.5"/><circle cx="2054.82" cy="928.48" r="12.5"/><circle cx="2063.26" cy="982.9" r="12.5"/><circle cx="2071.68" cy="969.29" r="12.5"/><circle cx="2080.11" cy="969.29" r="12.5"/><circle cx="2088.55" cy="969.29" r="12.5"/><circle cx="2096.97" cy="996.5" r="12.5"/><circle cx="2105.4" cy="982.9" r="12.5"/><circle cx="2113.84" cy="955.69" r="12.5"/><circle cx="2122.26" cy="969.29" r="12.5"/><circle cx="2130.69" cy="982.9" r="12.5"/><circle cx="2139.12" cy="969.29" r="12.5"/><circle cx="2147.55" cy="982.9" r="12.5"/><circle cx="2155.99" cy="942.08" r="12.5"/><circle cx="2164.41" cy="982.9" r="12.5"/><circle cx="2172.85" cy="996.5" r="12.5"/><circle cx="2181.28" cy="982.9" r="12.5"/><circle cx="2189.7" cy="969.29" r="12.5"/><circle cx="2198.14" cy="969.29" r="12.5"/><circle cx="2206.57" cy="969.29" r="12.5"/><circle cx="2214.99" cy="982.9" r="12.5"/><circle cx="2223.43" cy="996.5" r="12.5"/><circle cx="2231.86" cy="969.29" r="12.5"/><circle cx="2240.28" cy="996.5" r="12.5"/></g>
<polyline points="1401.5,810.4 1403.61,811.67 1405.73,812.94 1407.84,814.19 1409.95,815.42 1412.06,816.64 1414.18,817.84 1416.29,819.02 1418.4,820.19 1420.52,821.33 1422.63,822.46 1424.74,823.56 1426.85,824.64 1428.97,825.7 1431.08,826.73 1433.19,827.73 1435.3,828.7 1437.42,829.66 1439.53,830.61 1441.64,831.54 1443.76,832.46 1445.87,833.38 1447.98,834.3 1450.09,835.23 1452.21,836.16 1454.32,837.1 1456.43,838.06 1458.55,839.04 1460.66,840.04 1462.77,841.07 1464.88,842.13 1467,843.21 1469.11,844.31 1471.22,845.42 1473.33,846.53 1475.45,847.64 1477.56,848.75 1479.67,849.84 1481.79,850.92 1483.9,851.97 1486.01,852.99 1488.12,853.98 1490.24,854.92 1492.35,855.82 1494.46,856.68 1496.58,857.51 1498.69,858.31 1500.8,859.09 1502.91,859.85 1505.03,860.59 1507.14,861.32 1509.25,862.04 1511.36,862.75 1513.48,863.45 1515.59,864.15 1517.7,864.86 1519.82,865.57 1521.93,866.29 1524.04,867.01 1526.15,867.75 1528.27,868.49 1530.38,869.23 1532.49,869.96 1534.61,870.7 1536.72,871.43 1538.83,872.16 1540.94,872.89 1543.06,873.62 1545.17,874.36 1547.28,875.09 1549.39,875.82 1551.51,876.55 1553.62,877.28 1555.73,878.01 1557.85,878.75 1559.96,879.48 1562.07,880.22 1564.18,880.96 1566.3,881.7 1568.41,882.44 1570.52,883.18 1572.64,883.92 1574.75,884.66 1576.86,885.4 1578.97,886.14 1581.09,886.87 1583.2,887.59 1585.31,888.32 1587.42,889.04 1589.54,889.75 1591.65,890.46 1593.76,891.17 1595.88,891.88 1597.99,892.59 1600.1,893.3 1602.21,894.01 1604.33,894.71 1606.44,895.41 1608.55,896.1 1610.67,896.79 1612.78,897.46 1614.89,898.13 1617,898.78 1619.12,899.41 1621.23,900.04 1623.34,900.65 1625.45,901.26 1627.57,901.86 1629.68,902.46 1631.79,903.06 1633.91,903.65 1636.02,904.23 1638.13,904.8 1640.24,905.36 1642.36,905.9 1644.47,906.43 1646.58,906.95 1648.7,907.44 1650.81,907.92 1652.92,908.38 1655.03,908.81 1657.15,909.26 1659.26,909.73 1661.37,910.21 1663.48,910.69 1665.6,911.14 1667.71,911.55 1669.82,911.92 1671.94,912.91 1674.05,913.42 1676.16,913.92 1678.27,914.42 1680.39,914.9 1682.5,915.38 1684.61,915.85 1686.73,916.3 1688.84,916.74 1690.95,917.17 1693.06,917.57 1695.18,917.94 1697.29,918.28 1699.4,918.59 1701.52,918.85 1703.63,919.06 1705.74,919.21 1707.85,919.28 1709.97,919.26 1712.08,919.13 1714.19,918.88 1716.3,918.49 1718.42,917.93 1720.53,917.16 1722.64,916.18 1724.76,914.93 1726.87,913.38 1728.98,911.49 1731.09,909.21 1733.21,906.5 1735.32,903.3 1737.43,899.56 1739.55,895.22 1741.66,890.21 1743.77,884.48 1745.88,877.96 1748,870.59 1750.11,862.31 1752.22,853.05 1754.33,842.75 1756.45,831.37 1758.56,818.87 1760.67,805.2 1762.79,790.33 1764.9,774.26 1767.01,756.98 1769.12,738.51 1771.24,718.87 1773.35,698.11 1775.46,676.3 1777.58,653.52 1779.69,629.87 1781.8,605.49 1783.91,580.52 1786.03,555.12 1788.14,529.46 1790.25,503.75 1792.36,478.2 1794.48,453.02 1796.59,428.45 1798.7,404.72 1800.82,382.05 1802.93,360.7 1805.04,340.87 1807.15,322.8 1809.27,306.67 1811.38,292.67 1813.49,280.98 1815.61,271.71 1817.72,265 1819.83,260.91 1821.94,259.51 1824.06,260.81 1826.17,264.8 1828.28,271.44 1830.39,280.65 1832.51,292.33 1834.62,306.36 1836.73,322.56 1838.85,340.77 1840.96,360.79 1843.07,382.4 1845.18,405.38 1847.3,429.5 1849.41,454.52 1851.52,480.22 1853.64,506.36 1855.75,532.72 1857.86,559.08 1859.97,585.25 1862.09,611.03 1864.2,636.27 1866.31,660.81 1868.42,684.52 1870.54,707.3 1872.65,729.04 1874.76,749.68 1876.88,769.17 1878.99,787.47 1881.1,804.56 1883.21,820.45 1885.33,835.14 1887.44,848.65 1889.55,861.03 1891.67,872.31 1893.78,882.54 1895.89,891.79 1898,900.1 1900.12,907.54 1902.23,914.17 1904.34,920.06 1906.45,925.28 1908.57,929.87 1910.68,933.91 1912.79,937.45 1914.91,940.54 1917.02,943.22 1919.13,945.56 1921.24,947.59 1923.36,949.35 1925.47,950.87 1927.58,952.18 1929.7,953.32 1931.81,954.31 1933.92,955.18 1936.03,955.93 1938.15,956.59 1940.26,957.17 1942.37,957.69 1944.48,958.15 1946.6,958.57 1948.71,958.95 1950.82,959.3 1952.94,959.62 1955.05,959.93 1957.16,960.21 1959.27,960.48 1961.39,960.74 1963.5,960.99 1965.61,961.24 1967.73,961.47 1969.84,961.7 1971.95,961.93 1974.06,962.15 1976.18,962.37 1978.29,962.59 1980.4,962.8 1982.52,963.01 1984.63,963.22 1986.74,963.43 1988.85,963.64 1990.97,963.84 1993.08,964.04 1995.19,964.25 1997.3,964.45 1999.42,964.64 2001.53,964.84 2003.64,965.04 2005.76,965.23 2007.87,965.43 2009.98,965.62 2012.09,965.81 2014.21,966 2016.32,966.19 2018.43,966.38 2020.55,966.57 2022.66,966.75 2024.77,966.94 2026.88,967.12 2029,967.3 2031.11,967.48 2033.22,967.66 2035.33,967.84 2037.45,968.02 2039.56,968.2 2041.67,968.37 2043.79,968.55 2045.9,968.72 2048.01,968.89 2050.12,969.06 2052.24,969.23 2054.35,969.4 2056.46,969.57 2058.58,969.74 2060.69,969.9 2062.8,970.07 2064.91,970.23 2067.03,970.4 2069.14,970.56 2071.25,970.72 2073.36,970.88 2075.48,971.04 2077.59,971.2 2079.7,971.35 2081.82,971.51 2083.93,971.66 2086.04,971.82 2088.15,971.97 2090.27,972.12 2092.38,972.27 2094.49,972.42 2096.61,972.57 2098.72,972.72 2100.83,972.87 2102.94,973.02 2105.06,973.16 2107.17,973.31 2109.28,973.45 2111.39,973.59 2113.51,973.74 2115.62,973.88 2117.73,974.02 2119.85,974.16 2121.96,974.3 2124.07,974.43 2126.18,974.57 2128.3,974.71 2130.41,974.84 2132.52,974.98 2134.64,975.11 2136.75,975.24 2138.86,975.37 2140.97,975.5 2143.09,975.63 2145.2,975.76 2147.31,975.89 2149.42,976.02 2151.54,976.15 2153.65,976.27 2155.76,976.4 2157.88,976.52 2159.99,976.65 2162.1,976.77 2164.21,976.89 2166.33,977.02 2168.44,977.14 2170.55,977.26 2172.67,977.38 2174.78,977.49 2176.89,977.61 2179,977.73 2181.12,977.85 2183.23,977.96 2185.34,978.08 2187.45,978.19 2189.57,978.3 2191.68,978.42 2193.79,978.53 2195.91,978.64 2198.02,978.75 2200.13,978.86 2202.24,978.97 2204.36,979.08 2206.47,979.19 2208.58,979.29 2210.7,979.4 2212.81,979.51 2214.92,979.61 2217.03,979.72 2219.15,979.82 2221.26,979.93 2223.37,980.03 2225.48,980.13 2227.6,980.23 2229.71,980.33 2231.82,980.43 2233.94,980.53 2236.05,980.63 2238.16,980.73 2240.27,980.83 2242.39,980.93 2244.5,981.02" fill="none" stroke="#0000ff" stroke-width="3" stroke-linejoin="round"/>
<polyline points="1401.5,810.4 1403.61,811.67 1405.73,812.94 1407.84,814.19 1409.95,815.42 1412.06,816.64 1414.18,817.84 1416.29,819.02 1418.4,820.19 1420.52,821.33 1422.63,822.46 1424.74,823.56 1426.85,824.64 1428.97,825.7 1431.08,826.73 1433.19,827.73 1435.3,828.7 1437.42,829.66 1439.53,830.61 1441.64,831.54 1443.76,832.46 1445.87,833.38 1447.98,834.3 1450.09,835.23 1452.21,836.16 1454.32,837.1 1456.43,838.06 1458.55,839.04 1460.66,840.04 1462.77,841.07 1464.88,842.13 1467,843.21 1469.11,844.31 1471.22,845.42 1473.33,846.53 1475.45,847.64 1477.56,848.75 1479.67,849.84 1481.79,850.92 1483.9,851.97 1486.01,852.99 1488.12,853.98 1490.24,854.92 1492.35,855.82 1494.46,856.68 1496.58,857.51 1498.69,858.31 1500.8,859.09 1502.91,859.85 1505.03,860.59 1507.14,861.32 1509.25,862.04 1511.36,862.75 1513.48,863.45 1515.59,864.15 1517.7,864.86 1519.82,865.57 1521.93,866.29 1524.04,867.01 1526.15,867.75 1528.27,868.49 1530.38,869.23 1532.49,869.96 1534.61,870.7 1536.72,871.43 1538.83,872.16 1540.94,872.89 1543.06,873.62 1545.17,874.36 1547.28,875.09 1549.39,875.82 1551.51,876.55 1553.62,877.28 1555.73,878.01 1557.85,878.75 1559.96,879.48 1562.07,880.22 1564.18,880.96 1566.3,881.7 1568.41,882.44 1570.52,883.18 1572.64,883.92 1574.75,884.66 1576.86,885.4 1578.97,886.14 1581.09,886.87 1583.2,887.59 1585.31,888.32 1587.42,889.04 1589.54,889.75 1591.65,890.46 1593.76,891.17 1595.88,891.88 1597.99,892.59 1600.1,893.3 1602.21,894.01 1604.33,894.71 1606.44,895.41 1608.55,896.1 1610.67,896.79 1612.78,897.46 1614.89,898.13 1617,898.78 1619.12,899.41 1621.23,900.04 1623.34,900.65 1625.45,901.26 1627.57,901.86 1629.68,902.46 1631.79,903.06 1633.91,903.65 1636.02,904.23 1638.13,904.8 1640.24,905.36 1642.36,905.9 1644.47,906.43 1646.58,906.95 1648.7,907.44 1650.81,907.92 1652.92,908.38 1655.03,908.81 1657.15,909.26 1659.26,909.73 1661.37,910.21 1663.48,910.69 1665.6,911.14 1667.71,911.55 1669.82,911.92 1671.94,912.21 1674.05,912.43 1676.16,912.54 1678.27,912.54 1680.39,912.34 1682.5,911.95 1684.61,911.4 1686.73,910.71 1688.84,909.91 1690.95,909.03 1693.06,908.08 1695.18,906.99 1697.29,905.45 1699.4,903.5 1701.52,901.19 1703.63,898.59 1705.74,895.76 1707.85,892.75 1709.97,889.63 1712.08,886.45 1714.19,883.21 1716.3,879.67 1718.42,875.78 1720.53,871.57 1722.64,867.04 1724.76,862.21 1726.87,857.04 1728.98,851.09 1731.09,844.47 1733.21,837.43 1735.32,830.21 1737.43,823.08 1739.55,816.29 1741.66,809.88 1743.77,803.49 1745.88,797.16 1748,790.93 1750.11,784.83 1752.22,778.92 1754.33,773.23 1756.45,767.86 1758.56,762.85 1760.67,757.8 1762.79,752.53 1764.9,747.18 1767.01,741.88 1769.12,736.78 1771.24,732.01 1773.35,727.7 1775.46,724 1777.58,721.03 1779.69,718.45 1781.8,715.9 1783.91,713.43 1786.03,711.09 1788.14,708.93 1790.25,707 1792.36,705.36 1794.48,704.04 1796.59,703.1 1798.7,702.59 1800.82,702.51 1802.93,702.51 1805.04,702.51 1807.15,702.51 1809.27,702.51 1811.38,702.51 1813.49,702.51 1815.61,702.55 1817.72,703.05 1819.83,704.04 1821.94,705.4 1824.06,707.01 1826.17,708.75 1828.28,710.49 1830.39,712.13 1832.51,713.79 1834.62,715.56 1836.73,717.43 1838.85,719.39 1840.96,721.44 1843.07,723.57 1845.18,725.78 1847.3,728.05 1849.41,730.38 1851.52,732.76 1853.64,735.2 1855.75,737.67 1857.86,740.28 1859.97,743.14 1862.09,746.18 1864.2,749.34 1866.31,752.53 1868.42,755.7 1870.54,758.76 1872.65,761.65 1874.76,764.28 1876.88,766.7 1878.99,768.99 1881.1,771.17 1883.21,773.27 1885.33,775.31 1887.44,777.3 1889.55,779.27 1891.67,781.24 1893.78,783.23 1895.89,785.26 1898,787.35 1900.12,789.53 1902.23,791.8 1904.34,794.16 1906.45,796.58 1908.57,799.06 1910.68,801.59 1912.79,804.16 1914.91,806.74 1917.02,809.34 1919.13,811.94 1921.24,814.52 1923.36,817.08 1925.47,819.61 1927.58,822.09 1929.7,824.51 1931.81,826.86 1933.92,829.13 1936.03,831.32 1938.15,833.47 1940.26,835.59 1942.37,837.68 1944.48,839.74 1946.6,841.77 1948.71,843.77 1950.82,845.74 1952.94,847.68 1955.05,849.59 1957.16,851.47 1959.27,853.32 1961.39,855.14 1963.5,856.93 1965.61,858.7 1967.73,860.45 1969.84,862.18 1971.95,863.9 1974.06,865.6 1976.18,867.29 1978.29,868.95 1980.4,870.59 1982.52,872.21 1984.63,873.81 1986.74,875.38 1988.85,876.92 1990.97,878.44 1993.08,879.93 1995.19,881.38 1997.3,882.81 1999.42,884.21 2001.53,885.57 2003.64,886.9 2005.76,888.22 2007.87,889.52 2009.98,890.81 2012.09,892.08 2014.21,893.33 2016.32,894.56 2018.43,895.77 2020.55,896.95 2022.66,898.12 2024.77,899.25 2026.88,900.37 2029,901.45 2031.11,902.5 2033.22,903.53 2035.33,904.52 2037.45,905.48 2039.56,906.4 2041.67,907.29 2043.79,908.16 2045.9,909 2048.01,909.81 2050.12,910.6 2052.24,911.37 2054.35,912.13 2056.46,912.87 2058.58,913.59 2060.69,914.3 2062.8,915 2064.91,915.7 2067.03,916.39 2069.14,917.07 2071.25,917.75 2073.36,918.43 2075.48,919.12 2077.59,919.8 2079.7,920.48 2081.82,921.16 2083.93,921.82 2086.04,922.48 2088.15,923.12 2090.27,923.77 2092.38,924.41 2094.49,925.04 2096.61,925.67 2098.72,926.3 2100.83,926.92 2102.94,927.55 2105.06,928.17 2107.17,928.8 2109.28,929.42 2111.39,930.05 2113.51,930.68 2115.62,931.31 2117.73,931.96 2119.85,932.61 2121.96,933.27 2124.07,933.94 2126.18,934.61 2128.3,935.27 2130.41,935.94 2132.52,936.6 2134.64,937.25 2136.75,937.9 2138.86,938.53 2140.97,939.16 2143.09,939.76 2145.2,940.35 2147.31,940.92 2149.42,941.46 2151.54,941.99 2153.65,942.49 2155.76,942.97 2157.88,943.43 2159.99,943.89 2162.1,944.33 2164.21,944.75 2166.33,945.17 2168.44,945.58 2170.55,945.99 2172.67,946.39 2174.78,946.78 2176.89,947.18 2179,947.57 2181.12,947.97 2183.23,948.37 2185.34,948.78 2187.45,949.19 2189.57,949.61 2191.68,950.05 2193.79,950.54 2195.91,951.06 2198.02,951.6 2200.13,952.16 2202.24,952.72 2204.36,953.28 2206.47,953.83 2208.58,954.37 2210.7,954.87 2212.81,955.35 2214.92,955.78 2217.03,956.16 2219.15,956.49 2221.26,956.74 2223.37,956.93 2225.48,957.03 2227.6,957.05 2229.71,957.05 2231.82,957.05 2233.94,957.05 2236.05,957.05 2238.16,957.05 2240.27,957.05 2242.39,957.05 2244.5,957.05" fill="none" stroke="#ff0000" stroke-width="3" stroke-linejoin="round"/>
<rect x="1401.5" y="120.5" width="843" height="876" fill="none" stroke="#000" stroke-width="1"/>
<path d="M1418.5 996.5v-12M1435.5 996.5v-12M1452.5 996.5v-12M1468.5 996.5v-12M1485.5 996.5v-12M1502.5 996.5v-12M1519.5 996.5v-12M1536.5 996.5v-12M1553.5 996.5v-12M1570.5 996.5v-12M1586.5 996.5v-12M1603.5 996.5v-12M1620.5 996.5v-12M1637.5 996.5v-12M1654.5 996.5v-12M1671.5 996.5v-12M1688.5 996.5v-12M1704.5 996.5v-12M1721.5 996.5v-12M1738.5 996.5v-12M1755.5 996.5v-12M1772.5 996.5v-12M1789.5 996.5v-12M1806.5 996.5v-12M1822.5 996.5v-12M1839.5 996.5v-12M1856.5 996.5v-12M1873.5 996.5v-12M1890.5 996.5v-12M1907.5 996.5v-12M1924.5 996.5v-12M1941.5 996.5v-12M1957.5 996.5v-12M1974.5 996.5v-12M1991.5 996.5v-12M2008.5 996.5v-12M2025.5 996.5v-12M2042.5 996.5v-12M2059.5 996.5v-12M2075.5 996.5v-12M2092.5 996.5v-12M2109.5 996.5v-12M2126.5 996.5v-12M2143.5 996.5v-12M2160.5 996.5v-12M2177.5 996.5v-12M2193.5 996.5v-12M2210.5 996.5v-12M2227.5 996.5v-12M1401.5 996.5v-24M1485.5 996.5v-24M1570.5 996.5v-24M1654.5 996.5v-24M1738.5 996.5v-24M1822.5 996.5v-24M1907.5 996.5v-24M1991.5 996.5v-24M2075.5 996.5v-24M2160.5 996.5v-24M2244.5 996.5v-24" stroke="#000" stroke-width="1" fill="none"/>
<path d="M1401.5 969.5h13M1401.5 942.5h13M1401.5 914.5h13M1401.5 887.5h13M1401.5 860.5h13M1401.5 833.5h13M1401.5 806.5h13M1401.5 778.5h13M1401.5 751.5h13M1401.5 724.5h13M1401.5 697.5h13M1401.5 670.5h13M1401.5 642.5h13M1401.5 615.5h13M1401.5 588.5h13M1401.5 561.5h13M1401.5 533.5h13M1401.5 506.5h13M1401.5 479.5h13M1401.5 452.5h13M1401.5 425.5h13M1401.5 397.5h13M1401.5 370.5h13M1401.5 343.5h13M1401.5 316.5h13M1401.5 289.5h13M1401.5 261.5h13M1401.5 234.5h13M1401.5 207.5h13M1401.5 180.5h13M1401.5 153.5h13M1401.5 125.5h13M1401.5 996.5h28M1401.5 860.5h28M1401.5 724.5h28M1401.5 588.5h28M1401.5 452.5h28M1401.5 316.5h28M1401.5 180.5h28" stroke="#000" stroke-width="1" fill="none"/>
<text transform="translate(1401.5,1033.4) scale(1,1.058)" font-size="35" text-anchor="middle" >0</text>
<text transform="translate(1485.8,1033.4) scale(1,1.058)" font-size="35" text-anchor="middle" >5</text>
<text transform="translate(1570.1,1033.4) scale(1,1.058)" font-size="35" text-anchor="middle" >10</text>
<text transform="translate(1654.4,1033.4) scale(1,1.058)" font-size="35" text-anchor="middle" >15</text>
<text transform="translate(1738.7,1033.4) scale(1,1.058)" font-size="35" text-anchor="middle" >20</text>
<text transform="translate(1823,1033.4) scale(1,1.058)" font-size="35" text-anchor="middle" >25</text>
<text transform="translate(1907.3,1033.4) scale(1,1.058)" font-size="35" text-anchor="middle" >30</text>
<text transform="translate(1991.6,1033.4) scale(1,1.058)" font-size="35" text-anchor="middle" >35</text>
<text transform="translate(2075.9,1033.4) scale(1,1.058)" font-size="35" text-anchor="middle" >40</text>
<text transform="translate(2160.2,1033.4) scale(1,1.058)" font-size="35" text-anchor="middle" >45</text>
<text transform="translate(2244.5,1033.4) scale(1,1.058)" font-size="35" text-anchor="middle" >50</text>
<text transform="translate(1394.3,1012.1) scale(1,1.058)" font-size="35" text-anchor="end" >0</text>
<text transform="translate(1394.3,876.06) scale(1,1.058)" font-size="35" text-anchor="end" >10</text>
<text transform="translate(1394.3,740.02) scale(1,1.058)" font-size="35" text-anchor="end" >20</text>
<text transform="translate(1394.3,603.98) scale(1,1.058)" font-size="35" text-anchor="end" >30</text>
<text transform="translate(1394.3,467.93) scale(1,1.058)" font-size="35" text-anchor="end" >40</text>
<text transform="translate(1394.3,331.89) scale(1,1.058)" font-size="35" text-anchor="end" >50</text>
<text transform="translate(1394.3,195.85) scale(1,1.058)" font-size="35" text-anchor="end" >60</text>
<text x="2240.5" y="1071" font-size="35" text-anchor="end" >Observable</text>
<text transform="translate(1326.3,124.5) rotate(-90)" font-size="35" text-anchor="end">Events</text>
<rect x="1905.5" y="120.5" width="339" height="218" fill="#fff" stroke="#000" stroke-width="1"/>
<path d="M1921 156.5h58M1950 135.5V180.5M1945 135.5h10M1945 180.5h10" stroke="#000" stroke-width="1" fill="none"/>
<circle cx="1950" cy="156.6" r="12.5" fill="#000"/>
<path d="M1921 231.2h58" stroke="#0000ff" stroke-width="3"/>
<path d="M1921 303.1h58" stroke="#ff0000" stroke-width="3"/>
<text x="1992.5" y="173.9" font-size="44" text-anchor="start" >Data</text>
<text x="1992.5" y="246.2" font-size="44" text-anchor="start" >Gauss</text>
<text x="1992.5" y="318.3" font-size="44" text-anchor="start" >Landau</text>
<rect x="2598.5" y="120.5" width="843" height="876" fill="none" stroke="#000" stroke-width="1"/>
<polyline points="2634.51,186.22 2654.22,206.78 2673.92,236.35 2693.62,272.39 2713.32,311.82 2733.02,353.63 2752.72,397.14 2772.42,444.59 2792.12,487.11 2811.82,525.41 2831.52,562.44 2851.22,598.06 2870.92,634.95 2890.62,680.43 2910.32,724.36 2930.02,776.46 2949.72,827.14 2969.42,875.02 2989.12,916.13 3008.82,948.23 3028.53,957.38 3048.23,941.76 3067.93,905.99 3087.63,855.16 3107.33,794.76 3127.03,731.4 3146.73,667.76 3166.43,614.54 3186.13,563.85 3205.83,518.37 3225.53,474.02 3245.23,431.78 3264.93,383.91 3284.63,338.85 3304.33,297.74 3324.03,255.64 3343.73,218.61 3363.43,191.57 3383.13,171.16 3402.84,159.47" fill="none" stroke="#ff0000" stroke-width="1" stroke-linejoin="round"/>
<circle cx="2634.51" cy="186.22" r="12.3" fill="#ff0000"/><circle cx="2654.22" cy="206.78" r="12.3" fill="#ff0000"/><circle cx="2673.92" cy="236.35" r="12.3" fill="#ff0000"/><circle cx="2693.62" cy="272.39" r="12.3" fill="#ff0000"/><circle cx="2713.32" cy="311.82" r="12.3" fill="#ff0000"/><circle cx="2733.02" cy="353.63" r="12.3" fill="#ff0000"/><circle cx="2752.72" cy="397.14" r="12.3" fill="#ff0000"/><circle cx="2772.42" cy="444.59" r="12.3" fill="#ff0000"/><circle cx="2792.12" cy="487.11" r="12.3" fill="#ff0000"/><circle cx="2811.82" cy="525.41" r="12.3" fill="#ff0000"/><circle cx="2831.52" cy="562.44" r="12.3" fill="#ff0000"/><circle cx="2851.22" cy="598.06" r="12.3" fill="#ff0000"/><circle cx="2870.92" cy="634.95" r="12.3" fill="#ff0000"/><circle cx="2890.62" cy="680.43" r="12.3" fill="#ff0000"/><circle cx="2910.32" cy="724.36" r="12.3" fill="#ff0000"/><circle cx="2930.02" cy="776.46" r="12.3" fill="#ff0000"/><circle cx="2949.72" cy="827.14" r="12.3" fill="#ff0000"/><circle cx="2969.42" cy="875.02" r="12.3" fill="#ff0000"/><circle cx="2989.12" cy="916.13" r="12.3" fill="#ff0000"/><circle cx="3008.82" cy="948.23" r="12.3" fill="#ff0000"/><circle cx="3028.53" cy="957.38" r="12.3" fill="#ff0000"/><circle cx="3048.23" cy="941.76" r="12.3" fill="#ff0000"/><circle cx="3067.93" cy="905.99" r="12.3" fill="#ff0000"/><circle cx="3087.63" cy="855.16" r="12.3" fill="#ff0000"/><circle cx="3107.33" cy="794.76" r="12.3" fill="#ff0000"/><circle cx="3127.03" cy="731.4" r="12.3" fill="#ff0000"/><circle cx="3146.73" cy="667.76" r="12.3" fill="#ff0000"/><circle cx="3166.43" cy="614.54" r="12.3" fill="#ff0000"/><circle cx="3186.13" cy="563.85" r="12.3" fill="#ff0000"/><circle cx="3205.83" cy="518.37" r="12.3" fill="#ff0000"/><circle cx="3225.53" cy="474.02" r="12.3" fill="#ff0000"/><circle cx="3245.23" cy="431.78" r="12.3" fill="#ff0000"/><circle cx="3264.93" cy="383.91" r="12.3" fill="#ff0000"/><circle cx="3284.63" cy="338.85" r="12.3" fill="#ff0000"/><circle cx="3304.33" cy="297.74" r="12.3" fill="#ff0000"/><circle cx="3324.03" cy="255.64" r="12.3" fill="#ff0000"/><circle cx="3343.73" cy="218.61" r="12.3" fill="#ff0000"/><circle cx="3363.43" cy="191.57" r="12.3" fill="#ff0000"/><circle cx="3383.13" cy="171.16" r="12.3" fill="#ff0000"/><circle cx="3402.84" cy="159.47" r="12.3" fill="#ff0000"/>
<polyline points="2634.51,297.03 2654.22,311.82 2673.92,326.74 2693.62,344.9 2713.32,367.15 2733.02,392.21 2752.72,419.67 2772.42,454.59 2792.12,492.04 2811.82,533.44 2831.52,570.61 2851.22,617.35 2870.92,666.77 2890.62,716.19 2910.32,766.74 2930.02,814.47 2949.72,855.73 2969.42,879.24 2989.12,878.54 3008.82,863.89 3028.53,833.76 3048.23,791.8 3067.93,740.69 3087.63,689.86 3107.33,638.75 3127.03,587.08 3146.73,543.15 3166.43,497.53 3186.13,459.09 3205.83,426.15 3225.53,393.2 3245.23,363.21 3264.93,339.27 3284.63,315.34 3304.33,291.54 3324.03,270.7 3343.73,250.85 3363.43,237.19 3383.13,223.82 3402.84,206.92" fill="none" stroke="#0000ff" stroke-width="1" stroke-linejoin="round"/>
<rect x="2622.41" y="284.93" width="24.2" height="24.2" fill="#0000ff"/><rect x="2642.12" y="299.72" width="24.2" height="24.2" fill="#0000ff"/><rect x="2661.82" y="314.64" width="24.2" height="24.2" fill="#0000ff"/><rect x="2681.52" y="332.8" width="24.2" height="24.2" fill="#0000ff"/><rect x="2701.22" y="355.05" width="24.2" height="24.2" fill="#0000ff"/><rect x="2720.92" y="380.11" width="24.2" height="24.2" fill="#0000ff"/><rect x="2740.62" y="407.57" width="24.2" height="24.2" fill="#0000ff"/><rect x="2760.32" y="442.49" width="24.2" height="24.2" fill="#0000ff"/><rect x="2780.02" y="479.94" width="24.2" height="24.2" fill="#0000ff"/><rect x="2799.72" y="521.34" width="24.2" height="24.2" fill="#0000ff"/><rect x="2819.42" y="558.51" width="24.2" height="24.2" fill="#0000ff"/><rect x="2839.12" y="605.25" width="24.2" height="24.2" fill="#0000ff"/><rect x="2858.82" y="654.67" width="24.2" height="24.2" fill="#0000ff"/><rect x="2878.52" y="704.09" width="24.2" height="24.2" fill="#0000ff"/><rect x="2898.22" y="754.64" width="24.2" height="24.2" fill="#0000ff"/><rect x="2917.92" y="802.37" width="24.2" height="24.2" fill="#0000ff"/><rect x="2937.62" y="843.63" width="24.2" height="24.2" fill="#0000ff"/><rect x="2957.32" y="867.14" width="24.2" height="24.2" fill="#0000ff"/><rect x="2977.02" y="866.44" width="24.2" height="24.2" fill="#0000ff"/><rect x="2996.72" y="851.79" width="24.2" height="24.2" fill="#0000ff"/><rect x="3016.43" y="821.66" width="24.2" height="24.2" fill="#0000ff"/><rect x="3036.13" y="779.7" width="24.2" height="24.2" fill="#0000ff"/><rect x="3055.83" y="728.59" width="24.2" height="24.2" fill="#0000ff"/><rect x="3075.53" y="677.76" width="24.2" height="24.2" fill="#0000ff"/><rect x="3095.23" y="626.65" width="24.2" height="24.2" fill="#0000ff"/><rect x="3114.93" y="574.98" width="24.2" height="24.2" fill="#0000ff"/><rect x="3134.63" y="531.05" width="24.2" height="24.2" fill="#0000ff"/><rect x="3154.33" y="485.43" width="24.2" height="24.2" fill="#0000ff"/><rect x="3174.03" y="446.99" width="24.2" height="24.2" fill="#0000ff"/><rect x="3193.73" y="414.05" width="24.2" height="24.2" fill="#0000ff"/><rect x="3213.43" y="381.1" width="24.2" height="24.2" fill="#0000ff"/><rect x="3233.13" y="351.11" width="24.2" height="24.2" fill="#0000ff"/><rect x="3252.83" y="327.17" width="24.2" height="24.2" fill="#0000ff"/><rect x="3272.53" y="303.24" width="24.2" height="24.2" fill="#0000ff"/><rect x="3292.23" y="279.44" width="24.2" height="24.2" fill="#0000ff"/><rect x="3311.93" y="258.6" width="24.2" height="24.2" fill="#0000ff"/><rect x="3331.63" y="238.75" width="24.2" height="24.2" fill="#0000ff"/><rect x="3351.33" y="225.09" width="24.2" height="24.2" fill="#0000ff"/><rect x="3371.03" y="211.72" width="24.2" height="24.2" fill="#0000ff"/><rect x="3390.74" y="194.82" width="24.2" height="24.2" fill="#0000ff"/>
<polyline points="2634.51,186.22 2654.22,206.78 2673.92,236.35 2693.62,272.39 2713.32,311.82 2733.02,353.63 2752.72,397.14 2772.42,444.59 2792.12,487.11 2811.82,525.41 2831.52,562.44 2851.22,598.06 2870.92,634.95 2890.62,680.43 2910.32,724.36 2930.02,776.46 2949.72,827.14 2969.42,875.02 2989.12,917.54 3008.82,948.23 3028.53,957.38 3048.23,941.76 3067.93,907.4 3087.63,856.57 3107.33,796.17 3127.03,734.22 3146.73,670.57 3166.43,617.35 3186.13,567.37 3205.83,521.89 3225.53,478.95 3245.23,435.86 3264.93,390.24 3284.63,348.56 3304.33,306.04 3324.03,265.07 3343.73,231.14 3363.43,201.43 3383.13,183.41 3402.84,171.44" fill="none" stroke="#009900" stroke-width="1" stroke-linejoin="round"/>
<path d="M2634.51 175.02L2645.91 197.42H2623.11Z" fill="#009900"/><path d="M2654.22 195.58L2665.62 217.98H2642.82Z" fill="#009900"/><path d="M2673.92 225.15L2685.32 247.55H2662.52Z" fill="#009900"/><path d="M2693.62 261.19L2705.02 283.59H2682.22Z" fill="#009900"/><path d="M2713.32 300.62L2724.72 323.02H2701.92Z" fill="#009900"/><path d="M2733.02 342.43L2744.42 364.83H2721.62Z" fill="#009900"/><path d="M2752.72 385.94L2764.12 408.34H2741.32Z" fill="#009900"/><path d="M2772.42 433.39L2783.82 455.79H2761.02Z" fill="#009900"/><path d="M2792.12 475.91L2803.52 498.31H2780.72Z" fill="#009900"/><path d="M2811.82 514.21L2823.22 536.61H2800.42Z" fill="#009900"/><path d="M2831.52 551.24L2842.92 573.64H2820.12Z" fill="#009900"/><path d="M2851.22 586.86L2862.62 609.26H2839.82Z" fill="#009900"/><path d="M2870.92 623.75L2882.32 646.15H2859.52Z" fill="#009900"/><path d="M2890.62 669.23L2902.02 691.63H2879.22Z" fill="#009900"/><path d="M2910.32 713.16L2921.72 735.56H2898.92Z" fill="#009900"/><path d="M2930.02 765.26L2941.42 787.66H2918.62Z" fill="#009900"/><path d="M2949.72 815.94L2961.12 838.34H2938.32Z" fill="#009900"/><path d="M2969.42 863.82L2980.82 886.22H2958.02Z" fill="#009900"/><path d="M2989.12 906.34L3000.52 928.74H2977.72Z" fill="#009900"/><path d="M3008.82 937.03L3020.22 959.43H2997.42Z" fill="#009900"/><path d="M3028.53 946.18L3039.93 968.58H3017.13Z" fill="#009900"/><path d="M3048.23 930.56L3059.63 952.96H3036.83Z" fill="#009900"/><path d="M3067.93 896.2L3079.33 918.6H3056.53Z" fill="#009900"/><path d="M3087.63 845.37L3099.03 867.77H3076.23Z" fill="#009900"/><path d="M3107.33 784.97L3118.73 807.37H3095.93Z" fill="#009900"/><path d="M3127.03 723.02L3138.43 745.42H3115.63Z" fill="#009900"/><path d="M3146.73 659.37L3158.13 681.77H3135.33Z" fill="#009900"/><path d="M3166.43 606.15L3177.83 628.55H3155.03Z" fill="#009900"/><path d="M3186.13 556.17L3197.53 578.57H3174.73Z" fill="#009900"/><path d="M3205.83 510.69L3217.23 533.09H3194.43Z" fill="#009900"/><path d="M3225.53 467.75L3236.93 490.15H3214.13Z" fill="#009900"/><path d="M3245.23 424.66L3256.63 447.06H3233.83Z" fill="#009900"/><path d="M3264.93 379.04L3276.33 401.44H3253.53Z" fill="#009900"/><path d="M3284.63 337.36L3296.03 359.76H3273.23Z" fill="#009900"/><path d="M3304.33 294.84L3315.73 317.24H3292.93Z" fill="#009900"/><path d="M3324.03 253.87L3335.43 276.27H3312.63Z" fill="#009900"/><path d="M3343.73 219.94L3355.13 242.34H3332.33Z" fill="#009900"/><path d="M3363.43 190.23L3374.83 212.63H3352.03Z" fill="#009900"/><path d="M3383.13 172.21L3394.53 194.61H3371.73Z" fill="#009900"/><path d="M3402.84 160.24L3414.24 182.64H3391.43Z" fill="#009900"/>
<polyline points="2634.51,298.44 2654.22,311.82 2673.92,326.74 2693.62,344.9 2713.32,367.15 2733.02,392.21 2752.72,419.67 2772.42,454.59 2792.12,492.04 2811.82,533.44 2831.52,570.61 2851.22,617.35 2870.92,666.77 2890.62,716.19 2910.32,766.74 2930.02,814.47 2949.72,855.73 2969.42,879.24 2989.12,878.54 3008.82,863.89 3028.53,833.76 3048.23,791.8 3067.93,740.69 3087.63,689.86 3107.33,638.75 3127.03,587.08 3146.73,543.15 3166.43,497.53 3186.13,459.09 3205.83,426.15 3225.53,393.2 3245.23,366.02 3264.93,342.79 3284.63,320.26 3304.33,298.58 3324.03,280.84 3343.73,258.31 3363.43,245.64 3383.13,231.56 3402.84,217.48" fill="none" stroke="#ff00ff" stroke-width="1" stroke-linejoin="round"/>
<path d="M2634.51 309.64L2645.91 287.24H2623.11Z" fill="#ff00ff"/><path d="M2654.22 323.02L2665.62 300.62H2642.82Z" fill="#ff00ff"/><path d="M2673.92 337.94L2685.32 315.54H2662.52Z" fill="#ff00ff"/><path d="M2693.62 356.1L2705.02 333.7H2682.22Z" fill="#ff00ff"/><path d="M2713.32 378.35L2724.72 355.95H2701.92Z" fill="#ff00ff"/><path d="M2733.02 403.41L2744.42 381.01H2721.62Z" fill="#ff00ff"/><path d="M2752.72 430.87L2764.12 408.47H2741.32Z" fill="#ff00ff"/><path d="M2772.42 465.79L2783.82 443.39H2761.02Z" fill="#ff00ff"/><path d="M2792.12 503.24L2803.52 480.84H2780.72Z" fill="#ff00ff"/><path d="M2811.82 544.64L2823.22 522.24H2800.42Z" fill="#ff00ff"/><path d="M2831.52 581.81L2842.92 559.41H2820.12Z" fill="#ff00ff"/><path d="M2851.22 628.55L2862.62 606.15H2839.82Z" fill="#ff00ff"/><path d="M2870.92 677.97L2882.32 655.57H2859.52Z" fill="#ff00ff"/><path d="M2890.62 727.39L2902.02 704.99H2879.22Z" fill="#ff00ff"/><path d="M2910.32 777.94L2921.72 755.54H2898.92Z" fill="#ff00ff"/><path d="M2930.02 825.67L2941.42 803.27H2918.62Z" fill="#ff00ff"/><path d="M2949.72 866.93L2961.12 844.53H2938.32Z" fill="#ff00ff"/><path d="M2969.42 890.44L2980.82 868.04H2958.02Z" fill="#ff00ff"/><path d="M2989.12 889.74L3000.52 867.34H2977.72Z" fill="#ff00ff"/><path d="M3008.82 875.09L3020.22 852.69H2997.42Z" fill="#ff00ff"/><path d="M3028.53 844.96L3039.93 822.56H3017.13Z" fill="#ff00ff"/><path d="M3048.23 803L3059.63 780.6H3036.83Z" fill="#ff00ff"/><path d="M3067.93 751.89L3079.33 729.49H3056.53Z" fill="#ff00ff"/><path d="M3087.63 701.06L3099.03 678.66H3076.23Z" fill="#ff00ff"/><path d="M3107.33 649.95L3118.73 627.55H3095.93Z" fill="#ff00ff"/><path d="M3127.03 598.28L3138.43 575.88H3115.63Z" fill="#ff00ff"/><path d="M3146.73 554.35L3158.13 531.95H3135.33Z" fill="#ff00ff"/><path d="M3166.43 508.73L3177.83 486.33H3155.03Z" fill="#ff00ff"/><path d="M3186.13 470.29L3197.53 447.89H3174.73Z" fill="#ff00ff"/><path d="M3205.83 437.35L3217.23 414.95H3194.43Z" fill="#ff00ff"/><path d="M3225.53 404.4L3236.93 382H3214.13Z" fill="#ff00ff"/><path d="M3245.23 377.22L3256.63 354.82H3233.83Z" fill="#ff00ff"/><path d="M3264.93 353.99L3276.33 331.59H3253.53Z" fill="#ff00ff"/><path d="M3284.63 331.46L3296.03 309.06H3273.23Z" fill="#ff00ff"/><path d="M3304.33 309.78L3315.73 287.38H3292.93Z" fill="#ff00ff"/><path d="M3324.03 292.04L3335.43 269.64H3312.63Z" fill="#ff00ff"/><path d="M3343.73 269.51L3355.13 247.11H3332.33Z" fill="#ff00ff"/><path d="M3363.43 256.84L3374.83 234.44H3352.03Z" fill="#ff00ff"/><path d="M3383.13 242.76L3394.53 220.36H3371.73Z" fill="#ff00ff"/><path d="M3402.84 228.68L3414.24 206.28H3391.43Z" fill="#ff00ff"/>
<polyline points="2634.51,299.85 2654.22,311.82 2673.92,326.74 2693.62,344.9 2713.32,367.15 2733.02,392.21 2752.72,419.67 2772.42,454.59 2792.12,492.04 2811.82,533.44 2831.52,570.61 2851.22,617.35 2870.92,666.77 2890.62,716.19 2910.32,766.74 2930.02,814.47 2949.72,855.73 2969.42,879.24 2989.12,917.54 3008.82,948.23 3028.53,957.38 3048.23,941.76 3067.93,907.4 3087.63,856.57 3107.33,796.17 3127.03,734.22 3146.73,670.57 3166.43,617.35 3186.13,567.37 3205.83,521.89 3225.53,478.95 3245.23,435.86 3264.93,390.24 3284.63,348.56 3304.33,306.04 3324.03,282.25 3343.73,264.23 3363.43,249.44 3383.13,234.52 3402.84,219.31" fill="none" stroke="#000000" stroke-width="5" stroke-linejoin="round"/>
<path d="M2634.51 288.65L2645.91 311.05H2623.11Z" fill="#000000"/><path d="M2654.22 300.62L2665.62 323.02H2642.82Z" fill="#000000"/><path d="M2673.92 315.54L2685.32 337.94H2662.52Z" fill="#000000"/><path d="M2693.62 333.7L2705.02 356.1H2682.22Z" fill="#000000"/><path d="M2713.32 355.95L2724.72 378.35H2701.92Z" fill="#000000"/><path d="M2733.02 381.01L2744.42 403.41H2721.62Z" fill="#000000"/><path d="M2752.72 408.47L2764.12 430.87H2741.32Z" fill="#000000"/><path d="M2772.42 443.39L2783.82 465.79H2761.02Z" fill="#000000"/><path d="M2792.12 480.84L2803.52 503.24H2780.72Z" fill="#000000"/><path d="M2811.82 522.24L2823.22 544.64H2800.42Z" fill="#000000"/><path d="M2831.52 559.41L2842.92 581.81H2820.12Z" fill="#000000"/><path d="M2851.22 606.15L2862.62 628.55H2839.82Z" fill="#000000"/><path d="M2870.92 655.57L2882.32 677.97H2859.52Z" fill="#000000"/><path d="M2890.62 704.99L2902.02 727.39H2879.22Z" fill="#000000"/><path d="M2910.32 755.54L2921.72 777.94H2898.92Z" fill="#000000"/><path d="M2930.02 803.27L2941.42 825.67H2918.62Z" fill="#000000"/><path d="M2949.72 844.53L2961.12 866.93H2938.32Z" fill="#000000"/><path d="M2969.42 868.04L2980.82 890.44H2958.02Z" fill="#000000"/><path d="M2989.12 906.34L3000.52 928.74H2977.72Z" fill="#000000"/><path d="M3008.82 937.03L3020.22 959.43H2997.42Z" fill="#000000"/><path d="M3028.53 946.18L3039.93 968.58H3017.13Z" fill="#000000"/><path d="M3048.23 930.56L3059.63 952.96H3036.83Z" fill="#000000"/><path d="M3067.93 896.2L3079.33 918.6H3056.53Z" fill="#000000"/><path d="M3087.63 845.37L3099.03 867.77H3076.23Z" fill="#000000"/><path d="M3107.33 784.97L3118.73 807.37H3095.93Z" fill="#000000"/><path d="M3127.03 723.02L3138.43 745.42H3115.63Z" fill="#000000"/><path d="M3146.73 659.37L3158.13 681.77H3135.33Z" fill="#000000"/><path d="M3166.43 606.15L3177.83 628.55H3155.03Z" fill="#000000"/><path d="M3186.13 556.17L3197.53 578.57H3174.73Z" fill="#000000"/><path d="M3205.83 510.69L3217.23 533.09H3194.43Z" fill="#000000"/><path d="M3225.53 467.75L3236.93 490.15H3214.13Z" fill="#000000"/><path d="M3245.23 424.66L3256.63 447.06H3233.83Z" fill="#000000"/><path d="M3264.93 379.04L3276.33 401.44H3253.53Z" fill="#000000"/><path d="M3284.63 337.36L3296.03 359.76H3273.23Z" fill="#000000"/><path d="M3304.33 294.84L3315.73 317.24H3292.93Z" fill="#000000"/><path d="M3324.03 271.05L3335.43 293.45H3312.63Z" fill="#000000"/><path d="M3343.73 253.03L3355.13 275.43H3332.33Z" fill="#000000"/><path d="M3363.43 238.24L3374.83 260.64H3352.03Z" fill="#000000"/><path d="M3383.13 223.32L3394.53 245.72H3371.73Z" fill="#000000"/><path d="M3402.84 208.11L3414.24 230.51H3391.43Z" fill="#000000"/>
<path d="M2610.5 996.5v-12M2634.5 996.5v-12M2658.5 996.5v-12M2682.5 996.5v-12M2706.5 996.5v-12M2730.5 996.5v-12M2754.5 996.5v-12M2778.5 996.5v-12M2802.5 996.5v-12M2826.5 996.5v-12M2850.5 996.5v-12M2874.5 996.5v-12M2898.5 996.5v-12M2922.5 996.5v-12M2946.5 996.5v-12M2970.5 996.5v-12M2994.5 996.5v-12M3018.5 996.5v-12M3042.5 996.5v-12M3066.5 996.5v-12M3090.5 996.5v-12M3114.5 996.5v-12M3138.5 996.5v-12M3162.5 996.5v-12M3186.5 996.5v-12M3210.5 996.5v-12M3234.5 996.5v-12M3258.5 996.5v-12M3282.5 996.5v-12M3306.5 996.5v-12M3330.5 996.5v-12M3354.5 996.5v-12M3378.5 996.5v-12M3402.5 996.5v-12M3426.5 996.5v-12M2682.5 996.5v-24M2778.5 996.5v-24M2874.5 996.5v-24M2970.5 996.5v-24M3066.5 996.5v-24M3162.5 996.5v-24M3258.5 996.5v-24M3354.5 996.5v-24" stroke="#000" stroke-width="1" fill="none"/>
<path d="M2598.5 984.5h12M2598.5 956.5h12M2598.5 928.5h12M2598.5 900.5h12M2598.5 872.5h12M2598.5 844.5h12M2598.5 815.5h12M2598.5 787.5h12M2598.5 759.5h12M2598.5 731.5h12M2598.5 703.5h12M2598.5 675.5h12M2598.5 646.5h12M2598.5 618.5h12M2598.5 590.5h12M2598.5 562.5h12M2598.5 534.5h12M2598.5 506.5h12M2598.5 477.5h12M2598.5 449.5h12M2598.5 421.5h12M2598.5 393.5h12M2598.5 365.5h12M2598.5 337.5h12M2598.5 308.5h12M2598.5 280.5h12M2598.5 252.5h12M2598.5 224.5h12M2598.5 196.5h12M2598.5 168.5h12M2598.5 140.5h12M2598.5 872.5h24M2598.5 731.5h24M2598.5 590.5h24M2598.5 449.5h24M2598.5 308.5h24M2598.5 168.5h24" stroke="#000" stroke-width="1" fill="none"/>
<text transform="translate(2682.53,1033.4) scale(1,1.058)" font-size="35" text-anchor="middle" >18</text>
<text transform="translate(2778.57,1033.4) scale(1,1.058)" font-size="35" text-anchor="middle" >20</text>
<text transform="translate(2874.61,1033.4) scale(1,1.058)" font-size="35" text-anchor="middle" >22</text>
<text transform="translate(2970.66,1033.4) scale(1,1.058)" font-size="35" text-anchor="middle" >24</text>
<text transform="translate(3066.7,1033.4) scale(1,1.058)" font-size="35" text-anchor="middle" >26</text>
<text transform="translate(3162.74,1033.4) scale(1,1.058)" font-size="35" text-anchor="middle" >28</text>
<text transform="translate(3258.78,1033.4) scale(1,1.058)" font-size="35" text-anchor="middle" >30</text>
<text transform="translate(3354.82,1033.4) scale(1,1.058)" font-size="35" text-anchor="middle" >32</text>
<text transform="translate(2588.6,888.2) scale(1,1.058)" font-size="35" text-anchor="end" >7700</text>
<text transform="translate(2588.6,747.4) scale(1,1.058)" font-size="35" text-anchor="end" >7800</text>
<text transform="translate(2588.6,606.6) scale(1,1.058)" font-size="35" text-anchor="end" >7900</text>
<text transform="translate(2588.6,465.8) scale(1,1.058)" font-size="35" text-anchor="end" >8000</text>
<text transform="translate(2588.6,325) scale(1,1.058)" font-size="35" text-anchor="end" >8100</text>
<text transform="translate(2588.6,184.2) scale(1,1.058)" font-size="35" text-anchor="end" >8200</text>
<text x="3438.5" y="1071" font-size="35" text-anchor="end" >Mean</text>
<text transform="translate(2499,121.2) rotate(-90)" font-size="35" text-anchor="end">NLL</text>
<rect x="2703.5" y="48.5" width="336" height="227" fill="#fff" stroke="#000" stroke-width="1"/>
<path d="M2715 69.5H2776" stroke="#ff0000" stroke-width="1"/>
<circle cx="2745.6" cy="69" r="12.3" fill="#ff0000"/>
<text x="2786.5" y="80" font-size="36" text-anchor="start" >Combo [0,0]</text>
<path d="M2715 116.5H2776" stroke="#0000ff" stroke-width="1"/>
<rect x="2733.5" y="104.4" width="24.2" height="24.2" fill="#0000ff"/>
<text x="2786.5" y="124.9" font-size="36" text-anchor="start" >Combo [0,1]</text>
<path d="M2715 162.5H2776" stroke="#009900" stroke-width="1"/>
<path d="M2745.6 151.2L2757 173.6H2734.2Z" fill="#009900"/>
<text x="2786.5" y="170.5" font-size="36" text-anchor="start" >Combo [1,0]</text>
<path d="M2715 207.5H2776" stroke="#ff00ff" stroke-width="1"/>
<path d="M2745.6 218.2L2757 195.8H2734.2Z" fill="#ff00ff"/>
<text x="2786.5" y="215.5" font-size="36" text-anchor="start" >Combo [1,1]</text>
<path d="M2715 255.4H2776" stroke="#000000" stroke-width="5"/>
<path d="M2745.6 244.2L2757 266.6H2734.2Z" fill="#000000"/>
<text x="2786.5" y="263.2" font-size="36" text-anchor="start" >Profile</text>
</svg></body></html>
